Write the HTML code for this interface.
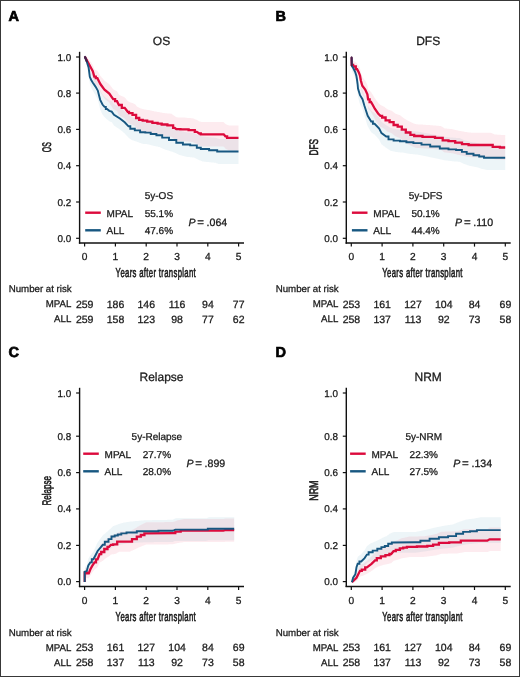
<!DOCTYPE html>
<html><head><meta charset="utf-8"><style>
html,body{margin:0;padding:0;background:#fff;}
#wrap{position:relative;width:520px;height:677px;box-sizing:border-box;border:1px solid #383838;overflow:hidden;background:#fff;}
svg{position:absolute;left:-1px;top:-1px;will-change:transform;}
text{font-family:"Liberation Sans", sans-serif;text-rendering:geometricPrecision;stroke:#1a1a1a;stroke-width:0.28px;}
</style></head><body><div id="wrap">
<svg width="520" height="677" viewBox="0 0 520 677">
<polygon points="85.0,57.0 85.5,56.3 86.0,56.8 86.5,57.6 87.0,58.4 87.5,59.5 88.0,60.6 88.5,61.8 89.0,64.5 89.5,67.7 90.0,70.0 90.5,71.0 91.0,71.9 91.5,72.8 92.0,73.5 92.5,74.2 93.0,74.9 93.5,75.5 94.0,76.2 94.5,76.8 95.0,77.5 95.5,78.1 96.0,78.9 96.5,79.7 97.0,80.4 97.5,81.2 98.0,82.4 98.5,84.1 99.0,85.8 99.5,87.6 100.0,89.4 100.5,90.6 101.0,91.6 101.5,92.5 102.0,93.5 102.5,94.4 103.0,95.0 103.5,95.6 104.0,96.1 104.5,96.7 105.0,97.1 105.5,97.5 106.0,97.9 106.5,98.3 107.0,98.6 107.5,99.0 108.0,99.4 108.5,99.7 109.0,100.1 109.5,100.4 110.0,100.6 110.5,100.7 111.0,100.9 111.5,101.0 112.0,101.5 112.5,102.1 113.0,102.8 113.5,103.4 114.0,104.1 114.5,104.4 115.0,104.7 115.5,104.9 116.0,105.2 116.5,105.5 117.0,105.8 117.5,106.1 118.0,106.4 118.5,106.7 119.0,107.0 119.5,107.3 120.0,107.6 120.5,108.0 121.0,108.4 121.5,108.7 122.0,109.1 122.5,109.5 123.0,109.8 123.5,110.2 124.0,110.6 124.5,111.0 125.0,111.4 125.5,111.9 126.0,112.4 126.5,112.9 127.0,113.4 127.5,113.9 128.0,114.4 128.5,114.9 129.0,115.2 129.5,115.6 130.0,115.9 130.5,116.2 131.0,116.5 131.5,116.8 132.0,117.2 132.5,117.3 133.0,117.5 133.5,117.7 134.0,117.8 134.5,118.0 135.0,118.1 135.5,118.3 136.0,118.4 136.5,118.6 137.0,118.7 137.5,118.9 138.0,119.0 138.5,119.2 139.0,119.4 139.5,119.5 140.0,119.7 140.5,119.9 141.0,120.0 141.5,120.2 142.0,120.3 142.5,120.5 143.0,120.6 143.5,120.6 144.0,120.7 144.5,120.7 145.0,120.7 145.5,120.8 146.0,120.8 146.5,120.8 147.0,120.9 147.5,120.9 148.0,121.0 148.5,121.1 149.0,121.2 149.5,121.3 150.0,121.5 150.5,121.6 151.0,121.7 151.5,121.8 152.0,122.0 152.5,122.1 153.0,122.2 153.5,122.3 154.0,122.4 154.5,122.5 155.0,122.6 155.5,122.7 156.0,122.8 156.5,122.9 157.0,123.0 157.5,123.1 158.0,123.2 158.5,123.3 159.0,123.4 159.5,123.5 160.0,123.7 160.5,123.9 161.0,124.1 161.5,124.3 162.0,124.5 162.5,124.7 163.0,124.9 163.5,125.1 164.0,125.3 164.5,125.5 165.0,125.7 165.5,125.9 166.0,126.0 166.5,126.2 167.0,126.3 167.5,126.4 168.0,126.6 168.5,126.7 169.0,126.8 169.5,127.0 170.0,127.1 170.5,127.3 171.0,127.4 171.5,127.5 172.0,127.7 172.5,127.8 173.0,128.0 173.5,128.2 174.0,128.4 174.5,128.6 175.0,128.8 175.5,129.0 176.0,129.2 176.5,129.4 177.0,129.6 177.5,129.8 178.0,130.0 178.5,130.2 179.0,130.4 179.5,130.6 180.0,130.8 180.5,130.9 181.0,131.0 181.5,131.1 182.0,131.2 182.5,131.4 183.0,131.5 183.5,131.6 184.0,131.7 184.5,131.9 185.0,132.0 185.5,132.1 186.0,132.2 186.5,132.3 187.0,132.4 187.5,132.4 188.0,132.5 188.5,132.5 189.0,132.6 189.5,132.6 190.0,132.7 190.5,132.7 191.0,132.8 191.5,132.8 192.0,132.9 192.5,132.9 193.0,133.0 193.5,133.0 194.0,133.1 194.5,133.2 195.0,133.4 195.5,133.7 196.0,133.9 196.5,134.1 197.0,134.3 197.5,134.6 198.0,134.8 198.5,135.0 199.0,135.2 199.5,135.4 200.0,135.6 200.5,135.8 201.0,136.0 201.5,136.2 202.0,136.4 202.5,136.5 203.0,136.6 203.5,136.6 204.0,136.7 204.5,136.7 205.0,136.8 205.5,136.8 206.0,136.9 206.5,136.9 207.0,137.0 207.5,137.0 208.0,137.1 208.5,137.1 209.0,137.2 209.5,137.2 210.0,137.2 210.5,137.3 211.0,137.3 211.5,137.4 212.0,137.4 212.5,137.5 213.0,137.5 213.5,137.6 214.0,137.6 214.5,137.7 215.0,137.7 215.5,137.8 216.0,137.9 216.5,138.1 217.0,138.3 217.5,138.4 218.0,138.6 218.5,138.8 219.0,138.9 219.5,138.9 220.0,138.9 220.5,138.9 221.0,138.9 221.5,138.9 222.0,138.9 222.5,138.9 223.0,138.9 223.5,138.9 224.0,138.9 224.5,138.9 225.0,138.9 225.5,138.9 226.0,138.9 226.5,138.9 227.0,138.9 227.5,138.9 228.0,138.9 228.5,138.9 229.0,138.9 229.5,138.9 230.0,138.9 230.5,138.9 231.0,138.9 231.5,138.9 232.0,138.9 232.5,138.9 233.0,138.9 233.5,138.9 234.0,138.9 234.5,138.9 235.0,138.9 235.5,138.9 236.0,138.9 236.5,138.9 237.0,138.9 237.5,138.9 238.0,138.9 238.5,138.9 238.5,164.1 238.0,164.1 237.5,164.1 237.0,164.1 236.5,164.1 236.0,164.1 235.5,164.1 235.0,164.1 234.5,164.1 234.0,164.1 233.5,164.1 233.0,164.1 232.5,164.1 232.0,164.1 231.5,164.1 231.0,164.1 230.5,164.1 230.0,164.1 229.5,164.1 229.0,164.1 228.5,164.1 228.0,164.1 227.5,164.1 227.0,164.1 226.5,164.1 226.0,164.1 225.5,164.1 225.0,164.1 224.5,164.1 224.0,164.1 223.5,164.1 223.0,164.1 222.5,164.1 222.0,164.1 221.5,164.1 221.0,164.1 220.5,164.1 220.0,164.1 219.5,164.1 219.0,164.1 218.5,164.0 218.0,163.8 217.5,163.6 217.0,163.4 216.5,163.2 216.0,163.0 215.5,162.8 215.0,162.8 214.5,162.7 214.0,162.7 213.5,162.6 213.0,162.6 212.5,162.5 212.0,162.5 211.5,162.4 211.0,162.3 210.5,162.3 210.0,162.2 209.5,162.2 209.0,162.1 208.5,162.1 208.0,162.0 207.5,162.0 207.0,161.9 206.5,161.9 206.0,161.8 205.5,161.8 205.0,161.7 204.5,161.7 204.0,161.6 203.5,161.6 203.0,161.5 202.5,161.5 202.0,161.3 201.5,161.0 201.0,160.8 200.5,160.6 200.0,160.4 199.5,160.2 199.0,160.0 198.5,159.7 198.0,159.5 197.5,159.3 197.0,159.0 196.5,158.8 196.0,158.5 195.5,158.3 195.0,158.0 194.5,157.8 194.0,157.6 193.5,157.6 193.0,157.5 192.5,157.5 192.0,157.4 191.5,157.3 191.0,157.3 190.5,157.2 190.0,157.2 189.5,157.1 189.0,157.1 188.5,157.0 188.0,156.9 187.5,156.9 187.0,156.8 186.5,156.8 186.0,156.7 185.5,156.5 185.0,156.4 184.5,156.3 184.0,156.1 183.5,156.0 183.0,155.9 182.5,155.7 182.0,155.6 181.5,155.5 181.0,155.3 180.5,155.2 180.0,155.1 179.5,154.9 179.0,154.7 178.5,154.5 178.0,154.2 177.5,154.0 177.0,153.8 176.5,153.5 176.0,153.3 175.5,153.1 175.0,152.9 174.5,152.6 174.0,152.4 173.5,152.2 173.0,152.0 172.5,151.8 172.0,151.7 171.5,151.5 171.0,151.4 170.5,151.2 170.0,151.1 169.5,150.9 169.0,150.8 168.5,150.6 168.0,150.4 167.5,150.3 167.0,150.1 166.5,150.0 166.0,149.8 165.5,149.7 165.0,149.5 164.5,149.3 164.0,149.1 163.5,148.9 163.0,148.6 162.5,148.4 162.0,148.2 161.5,148.0 161.0,147.7 160.5,147.5 160.0,147.3 159.5,147.1 159.0,147.0 158.5,146.9 158.0,146.7 157.5,146.6 157.0,146.5 156.5,146.4 156.0,146.3 155.5,146.2 155.0,146.1 154.5,146.0 154.0,145.9 153.5,145.8 153.0,145.6 152.5,145.5 152.0,145.4 151.5,145.2 151.0,145.1 150.5,144.9 150.0,144.8 149.5,144.7 149.0,144.5 148.5,144.4 148.0,144.2 147.5,144.2 147.0,144.2 146.5,144.1 146.0,144.1 145.5,144.0 145.0,144.0 144.5,144.0 144.0,143.9 143.5,143.9 143.0,143.8 142.5,143.8 142.0,143.6 141.5,143.4 141.0,143.2 140.5,143.0 140.0,142.9 139.5,142.7 139.0,142.5 138.5,142.3 138.0,142.2 137.5,142.0 137.0,141.8 136.5,141.6 136.0,141.5 135.5,141.3 135.0,141.1 134.5,141.0 134.0,140.8 133.5,140.6 133.0,140.5 132.5,140.3 132.0,140.1 131.5,139.8 131.0,139.4 130.5,139.1 130.0,138.7 129.5,138.4 129.0,138.0 128.5,137.7 128.0,137.1 127.5,136.6 127.0,136.0 126.5,135.5 126.0,134.9 125.5,134.4 125.0,133.8 124.5,133.3 124.0,132.9 123.5,132.5 123.0,132.1 122.5,131.6 122.0,131.2 121.5,130.8 121.0,130.4 120.5,130.0 120.0,129.5 119.5,129.2 119.0,128.9 118.5,128.5 118.0,128.2 117.5,127.9 117.0,127.5 116.5,127.2 116.0,126.9 115.5,126.5 115.0,126.2 114.5,125.9 114.0,125.5 113.5,124.8 113.0,124.0 112.5,123.3 112.0,122.6 111.5,122.0 111.0,121.9 110.5,121.7 110.0,121.5 109.5,121.3 109.0,121.0 108.5,120.6 108.0,120.2 107.5,119.8 107.0,119.4 106.5,118.9 106.0,118.5 105.5,118.0 105.0,117.6 104.5,117.1 104.0,116.5 103.5,115.8 103.0,115.2 102.5,114.6 102.0,113.5 101.5,112.4 101.0,111.3 100.5,110.2 100.0,108.7 99.5,106.6 99.0,104.6 98.5,102.5 98.0,100.4 97.5,98.9 97.0,98.0 96.5,97.0 96.0,96.1 95.5,95.1 95.0,94.3 94.5,93.4 94.0,92.6 93.5,91.8 93.0,91.0 92.5,90.1 92.0,89.2 91.5,88.2 91.0,87.1 90.5,85.8 90.0,84.5 89.5,81.3 89.0,76.7 88.5,72.5 88.0,70.5 87.5,68.4 87.0,66.3 86.5,64.3 86.0,62.4 85.5,60.3 85.0,57.0" fill="rgba(90,160,195,0.11)"/>
<polygon points="85.0,57.0 85.5,56.3 86.0,56.5 86.5,56.9 87.0,57.4 87.5,57.9 88.0,58.5 88.5,59.1 89.0,59.7 89.5,60.3 90.0,61.0 90.5,61.7 91.0,62.3 91.5,63.0 92.0,63.8 92.5,64.5 93.0,65.5 93.5,67.0 94.0,68.5 94.5,69.5 95.0,69.7 95.5,69.9 96.0,70.1 96.5,70.4 97.0,70.6 97.5,70.9 98.0,71.8 98.5,72.6 99.0,73.5 99.5,74.3 100.0,75.2 100.5,76.0 101.0,76.6 101.5,77.2 102.0,77.8 102.5,78.3 103.0,78.9 103.5,79.5 104.0,80.1 104.5,80.7 105.0,81.1 105.5,81.4 106.0,81.8 106.5,82.1 107.0,82.5 107.5,82.9 108.0,83.2 108.5,83.6 109.0,84.0 109.5,84.5 110.0,85.1 110.5,85.8 111.0,86.4 111.5,87.1 112.0,87.8 112.5,88.4 113.0,89.1 113.5,89.5 114.0,89.7 114.5,90.0 115.0,90.2 115.5,90.5 116.0,90.7 116.5,90.9 117.0,91.2 117.5,92.1 118.0,93.0 118.5,93.9 119.0,94.7 119.5,95.0 120.0,95.2 120.5,95.4 121.0,95.7 121.5,95.9 122.0,96.1 122.5,96.4 123.0,96.6 123.5,96.8 124.0,97.1 124.5,97.3 125.0,97.7 125.5,98.3 126.0,98.9 126.5,99.6 127.0,100.2 127.5,100.8 128.0,101.2 128.5,101.4 129.0,101.7 129.5,101.9 130.0,102.2 130.5,102.4 131.0,102.6 131.5,102.8 132.0,103.0 132.5,103.1 133.0,103.3 133.5,103.5 134.0,103.7 134.5,103.9 135.0,104.3 135.5,104.8 136.0,105.3 136.5,105.9 137.0,106.4 137.5,106.9 138.0,107.1 138.5,107.4 139.0,107.6 139.5,107.9 140.0,108.1 140.5,108.4 141.0,108.6 141.5,108.7 142.0,108.8 142.5,108.9 143.0,109.1 143.5,109.2 144.0,109.3 144.5,109.4 145.0,109.5 145.5,109.6 146.0,109.7 146.5,109.7 147.0,109.8 147.5,109.9 148.0,110.0 148.5,110.1 149.0,110.1 149.5,110.2 150.0,110.3 150.5,110.4 151.0,110.5 151.5,110.7 152.0,110.8 152.5,110.9 153.0,111.0 153.5,111.1 154.0,111.2 154.5,111.4 155.0,111.5 155.5,111.6 156.0,111.6 156.5,111.7 157.0,111.8 157.5,111.9 158.0,111.9 158.5,112.0 159.0,112.1 159.5,112.2 160.0,112.2 160.5,112.4 161.0,112.5 161.5,112.6 162.0,112.7 162.5,112.8 163.0,112.9 163.5,113.0 164.0,113.1 164.5,113.1 165.0,113.2 165.5,113.2 166.0,113.2 166.5,113.3 167.0,113.3 167.5,113.4 168.0,113.4 168.5,113.5 169.0,113.5 169.5,113.6 170.0,113.6 170.5,113.7 171.0,113.7 171.5,113.8 172.0,114.2 172.5,114.5 173.0,114.9 173.5,115.2 174.0,115.6 174.5,115.9 175.0,116.3 175.5,116.7 176.0,117.1 176.5,117.3 177.0,117.3 177.5,117.3 178.0,117.4 178.5,117.4 179.0,117.4 179.5,117.4 180.0,117.4 180.5,117.4 181.0,117.5 181.5,117.5 182.0,117.5 182.5,117.5 183.0,117.5 183.5,117.5 184.0,117.6 184.5,117.6 185.0,117.6 185.5,117.7 186.0,117.7 186.5,117.8 187.0,117.8 187.5,117.9 188.0,117.9 188.5,117.9 189.0,118.0 189.5,118.0 190.0,118.1 190.5,118.1 191.0,118.2 191.5,118.2 192.0,118.3 192.5,118.3 193.0,118.4 193.5,118.6 194.0,118.8 194.5,119.0 195.0,119.2 195.5,119.4 196.0,119.6 196.5,119.8 197.0,120.0 197.5,120.3 198.0,120.6 198.5,121.0 199.0,121.3 199.5,121.5 200.0,121.6 200.5,121.7 201.0,121.8 201.5,121.9 202.0,122.0 202.5,122.1 203.0,122.1 203.5,122.1 204.0,122.1 204.5,122.1 205.0,122.1 205.5,122.1 206.0,122.1 206.5,122.1 207.0,122.1 207.5,122.1 208.0,122.1 208.5,122.1 209.0,122.1 209.5,122.1 210.0,122.1 210.5,122.1 211.0,122.1 211.5,122.1 212.0,122.1 212.5,122.1 213.0,122.1 213.5,122.1 214.0,122.1 214.5,122.1 215.0,122.1 215.5,122.1 216.0,122.1 216.5,122.1 217.0,122.1 217.5,122.1 218.0,122.1 218.5,122.1 219.0,122.1 219.5,122.1 220.0,122.1 220.5,122.1 221.0,122.1 221.5,122.1 222.0,122.1 222.5,122.1 223.0,122.1 223.5,122.1 224.0,122.4 224.5,123.0 225.0,123.5 225.5,124.0 226.0,124.2 226.5,124.4 227.0,124.7 227.5,124.9 228.0,125.1 228.5,125.3 229.0,125.4 229.5,125.4 230.0,125.4 230.5,125.4 231.0,125.4 231.5,125.4 232.0,125.4 232.5,125.4 233.0,125.4 233.5,125.4 234.0,125.4 234.5,125.4 235.0,125.4 235.5,125.4 236.0,125.4 236.5,125.4 237.0,125.4 237.5,125.4 238.0,125.4 238.5,125.4 238.5,150.4 238.0,150.4 237.5,150.4 237.0,150.4 236.5,150.4 236.0,150.4 235.5,150.4 235.0,150.4 234.5,150.4 234.0,150.4 233.5,150.4 233.0,150.4 232.5,150.4 232.0,150.4 231.5,150.4 231.0,150.4 230.5,150.4 230.0,150.4 229.5,150.4 229.0,150.4 228.5,150.3 228.0,150.0 227.5,149.8 227.0,149.5 226.5,149.2 226.0,149.0 225.5,148.7 225.0,148.1 224.5,147.5 224.0,146.9 223.5,146.5 223.0,146.5 222.5,146.5 222.0,146.5 221.5,146.5 221.0,146.5 220.5,146.5 220.0,146.5 219.5,146.5 219.0,146.5 218.5,146.5 218.0,146.5 217.5,146.5 217.0,146.5 216.5,146.5 216.0,146.5 215.5,146.5 215.0,146.5 214.5,146.5 214.0,146.5 213.5,146.5 213.0,146.5 212.5,146.5 212.0,146.5 211.5,146.5 211.0,146.5 210.5,146.5 210.0,146.5 209.5,146.5 209.0,146.5 208.5,146.5 208.0,146.5 207.5,146.5 207.0,146.5 206.5,146.5 206.0,146.5 205.5,146.5 205.0,146.5 204.5,146.5 204.0,146.5 203.5,146.5 203.0,146.5 202.5,146.5 202.0,146.3 201.5,146.2 201.0,146.1 200.5,146.0 200.0,145.8 199.5,145.7 199.0,145.5 198.5,145.1 198.0,144.8 197.5,144.4 197.0,144.0 196.5,143.8 196.0,143.5 195.5,143.3 195.0,143.1 194.5,142.9 194.0,142.7 193.5,142.4 193.0,142.2 192.5,142.1 192.0,142.0 191.5,142.0 191.0,141.9 190.5,141.8 190.0,141.8 189.5,141.7 189.0,141.7 188.5,141.6 188.0,141.6 187.5,141.5 187.0,141.5 186.5,141.4 186.0,141.4 185.5,141.3 185.0,141.3 184.5,141.2 184.0,141.2 183.5,141.2 183.0,141.2 182.5,141.1 182.0,141.1 181.5,141.1 181.0,141.1 180.5,141.1 180.0,141.0 179.5,141.0 179.0,141.0 178.5,141.0 178.0,141.0 177.5,140.9 177.0,140.9 176.5,140.9 176.0,140.6 175.5,140.2 175.0,139.8 174.5,139.4 174.0,139.0 173.5,138.6 173.0,138.1 172.5,137.7 172.0,137.3 171.5,136.9 171.0,136.8 170.5,136.8 170.0,136.7 169.5,136.7 169.0,136.6 168.5,136.6 168.0,136.5 167.5,136.4 167.0,136.4 166.5,136.3 166.0,136.3 165.5,136.2 165.0,136.2 164.5,136.1 164.0,136.1 163.5,136.0 163.0,135.9 162.5,135.8 162.0,135.7 161.5,135.5 161.0,135.4 160.5,135.3 160.0,135.2 159.5,135.1 159.0,135.0 158.5,134.9 158.0,134.8 157.5,134.7 157.0,134.6 156.5,134.5 156.0,134.5 155.5,134.4 155.0,134.3 154.5,134.2 154.0,134.0 153.5,133.9 153.0,133.8 152.5,133.6 152.0,133.5 151.5,133.4 151.0,133.2 150.5,133.1 150.0,133.0 149.5,132.9 149.0,132.8 148.5,132.7 148.0,132.6 147.5,132.5 147.0,132.4 146.5,132.3 146.0,132.3 145.5,132.2 145.0,132.1 144.5,132.0 144.0,131.9 143.5,131.7 143.0,131.6 142.5,131.5 142.0,131.3 141.5,131.2 141.0,131.1 140.5,130.8 140.0,130.6 139.5,130.3 139.0,130.0 138.5,129.7 138.0,129.5 137.5,129.2 137.0,128.7 136.5,128.1 136.0,127.4 135.5,126.8 135.0,126.2 134.5,125.8 134.0,125.6 133.5,125.4 133.0,125.2 132.5,125.0 132.0,124.8 131.5,124.6 131.0,124.4 130.5,124.1 130.0,123.9 129.5,123.6 129.0,123.3 128.5,123.0 128.0,122.8 127.5,122.3 127.0,121.6 126.5,120.9 126.0,120.2 125.5,119.5 125.0,118.8 124.5,118.3 124.0,118.0 123.5,117.8 123.0,117.5 122.5,117.2 122.0,117.0 121.5,116.7 121.0,116.4 120.5,116.2 120.0,115.9 119.5,115.6 119.0,115.4 118.5,114.5 118.0,113.4 117.5,112.3 117.0,111.2 116.5,110.9 116.0,110.6 115.5,110.4 115.0,110.1 114.5,109.8 114.0,109.5 113.5,109.2 113.0,108.7 112.5,107.9 112.0,107.1 111.5,106.3 111.0,105.5 110.5,104.7 110.0,103.9 109.5,103.1 109.0,102.5 108.5,102.1 108.0,101.6 107.5,101.2 107.0,100.7 106.5,100.3 106.0,99.9 105.5,99.4 105.0,99.0 104.5,98.5 104.0,97.8 103.5,97.0 103.0,96.3 102.5,95.6 102.0,94.8 101.5,94.1 101.0,93.3 100.5,92.6 100.0,91.5 99.5,90.4 99.0,89.3 98.5,88.2 98.0,87.0 97.5,85.9 97.0,85.4 96.5,85.1 96.0,84.8 95.5,84.5 95.0,84.2 94.5,83.9 94.0,82.5 93.5,80.4 93.0,78.3 92.5,76.8 92.0,75.6 91.5,74.5 91.0,73.3 90.5,72.2 90.0,71.1 89.5,70.0 89.0,68.8 88.5,67.6 88.0,66.4 87.5,65.2 87.0,63.9 86.5,62.5 86.0,61.1 85.5,59.5 85.0,57.0" fill="rgba(235,60,100,0.10)"/>
<polyline points="85.0,57.0 88.2,62.8 91.2,68.2 92.8,71.2 94.3,76.6 95.8,76.6 95.8,78.2 97.4,78.2 98.9,81.2 100.5,84.3 104.5,89.6 109.3,93.5 113.2,99.2 115.1,99.2 115.1,101.2 117.0,101.2 118.9,105.0 121.8,105.0 121.8,107.9 124.7,107.9 127.7,111.8 129.0,111.8 129.0,113.2 130.3,113.2 132.5,113.2 132.5,114.9 134.7,114.9 136.1,114.9 136.1,118.0 137.4,118.0 139.2,118.0 139.2,119.8 140.9,119.8 142.7,119.8 142.7,120.7 144.5,120.7 147.2,120.7 147.2,121.6 149.8,121.6 152.4,121.6 152.4,122.9 155.1,122.9 157.6,122.9 157.6,123.7 160.0,123.7 161.7,123.7 161.7,124.5 163.3,124.5 167.4,124.5 167.4,125.3 171.4,125.3 173.1,125.3 173.1,127.8 174.7,127.8 176.3,129.1 180.4,129.1 180.4,129.4 184.5,129.4 188.6,129.4 188.6,130.2 192.7,130.2 194.8,130.2 194.8,131.9 196.8,131.9 199.2,133.5 200.8,133.5 200.8,134.3 202.5,134.3 223.7,134.3 225.4,136.3 227.1,136.3 227.1,137.9 228.7,137.9 238.5,137.9" fill="none" stroke="#dc0a3c" stroke-width="2.3" stroke-linejoin="miter"/>
<polyline points="85.0,57.0 86.9,62.0 88.6,67.5 89.8,76.8 91.2,80.0 92.7,82.5 95.5,86.6 97.8,90.6 99.0,95.2 100.2,99.8 102.5,104.5 104.5,106.9 105.8,106.9 105.8,109.0 107.0,109.0 109.3,110.8 111.7,111.6 114.0,114.8 119.9,118.5 124.7,122.3 128.5,126.3 130.3,126.3 130.3,128.7 132.1,128.7 134.8,128.7 134.8,130.4 137.4,130.4 140.1,130.4 140.1,132.2 142.7,132.2 145.3,132.2 145.3,132.6 148.0,132.6 150.7,132.6 150.7,134.0 153.3,134.0 156.4,134.0 156.4,135.3 159.5,135.3 162.2,135.3 162.2,137.6 164.9,137.6 169.0,137.6 169.0,140.0 173.1,140.0 176.3,140.0 176.3,142.8 179.6,142.8 182.9,142.8 182.9,144.5 186.2,144.5 190.2,144.5 190.2,145.4 194.3,145.4 196.8,145.4 196.8,147.7 199.2,147.7 200.8,147.7 200.8,149.0 202.5,149.0 209.1,149.0 209.1,150.3 215.6,150.3 217.2,150.3 217.2,151.5 218.8,151.5 238.5,151.5" fill="none" stroke="#175781" stroke-width="1.9" stroke-linejoin="miter"/>
<polyline points="85.0,57.0 86.8,61.2" fill="none" stroke="#4a1f48" stroke-width="2.2" stroke-linecap="round"/>
<line x1="79.6" y1="51.8" x2="79.6" y2="243.7" stroke="#111" stroke-width="1.4"/>
<line x1="78.89999999999999" y1="243.0" x2="244.0" y2="243.0" stroke="#111" stroke-width="1.5"/>
<line x1="76.1" y1="57.0" x2="79.6" y2="57.0" stroke="#111" stroke-width="1.2"/>
<text x="71.3" y="60.5" font-size="9.9" text-anchor="end" font-weight="normal" font-style="normal" fill="#1a1a1a" >1.0</text>
<line x1="76.1" y1="93.1" x2="79.6" y2="93.1" stroke="#111" stroke-width="1.2"/>
<text x="71.3" y="96.6" font-size="9.9" text-anchor="end" font-weight="normal" font-style="normal" fill="#1a1a1a" >0.8</text>
<line x1="76.1" y1="129.4" x2="79.6" y2="129.4" stroke="#111" stroke-width="1.2"/>
<text x="71.3" y="132.9" font-size="9.9" text-anchor="end" font-weight="normal" font-style="normal" fill="#1a1a1a" >0.6</text>
<line x1="76.1" y1="165.7" x2="79.6" y2="165.7" stroke="#111" stroke-width="1.2"/>
<text x="71.3" y="169.2" font-size="9.9" text-anchor="end" font-weight="normal" font-style="normal" fill="#1a1a1a" >0.4</text>
<line x1="76.1" y1="202.0" x2="79.6" y2="202.0" stroke="#111" stroke-width="1.2"/>
<text x="71.3" y="205.5" font-size="9.9" text-anchor="end" font-weight="normal" font-style="normal" fill="#1a1a1a" >0.2</text>
<line x1="76.1" y1="238.3" x2="79.6" y2="238.3" stroke="#111" stroke-width="1.2"/>
<text x="71.3" y="241.8" font-size="9.9" text-anchor="end" font-weight="normal" font-style="normal" fill="#1a1a1a" >0.0</text>
<line x1="84.6" y1="243.0" x2="84.6" y2="246.6" stroke="#111" stroke-width="1.2"/>
<text x="84.6" y="259.8" font-size="10.2" text-anchor="middle" font-weight="normal" font-style="normal" fill="#1a1a1a" >0</text>
<line x1="115.39999999999999" y1="243.0" x2="115.39999999999999" y2="246.6" stroke="#111" stroke-width="1.2"/>
<text x="115.39999999999999" y="259.8" font-size="10.2" text-anchor="middle" font-weight="normal" font-style="normal" fill="#1a1a1a" >1</text>
<line x1="146.2" y1="243.0" x2="146.2" y2="246.6" stroke="#111" stroke-width="1.2"/>
<text x="146.2" y="259.8" font-size="10.2" text-anchor="middle" font-weight="normal" font-style="normal" fill="#1a1a1a" >2</text>
<line x1="177.0" y1="243.0" x2="177.0" y2="246.6" stroke="#111" stroke-width="1.2"/>
<text x="177.0" y="259.8" font-size="10.2" text-anchor="middle" font-weight="normal" font-style="normal" fill="#1a1a1a" >3</text>
<line x1="207.8" y1="243.0" x2="207.8" y2="246.6" stroke="#111" stroke-width="1.2"/>
<text x="207.8" y="259.8" font-size="10.2" text-anchor="middle" font-weight="normal" font-style="normal" fill="#1a1a1a" >4</text>
<line x1="238.6" y1="243.0" x2="238.6" y2="246.6" stroke="#111" stroke-width="1.2"/>
<text x="238.6" y="259.8" font-size="10.2" text-anchor="middle" font-weight="normal" font-style="normal" fill="#1a1a1a" >5</text>
<text transform="translate(115.6,277.2) scale(0.595,1)" x="0" y="0" font-size="13" fill="#1a1a1a" style="stroke-width:0.6px;letter-spacing:0.55px">Years after transplant</text>
<text transform="translate(50.6,147.2) rotate(-90)" x="0" y="0" font-size="12.5" text-anchor="middle" fill="#1a1a1a" style="stroke-width:0.6px" textLength="10" lengthAdjust="spacingAndGlyphs">OS</text>
<text x="161.5" y="45.0" font-size="12" text-anchor="middle" font-weight="normal" font-style="normal" fill="#1a1a1a" >OS</text>
<text x="8.4" y="21" font-size="14.5" text-anchor="start" font-weight="bold" font-style="normal" fill="#000" style="stroke-width:0.7px;stroke:#000">A</text>
<line x1="85.2" y1="212.7" x2="100.8" y2="212.7" stroke="#dc0a3c" stroke-width="2.4"/>
<line x1="85.2" y1="230.3" x2="100.8" y2="230.3" stroke="#175781" stroke-width="2.4"/>
<text x="106.6" y="217.0" font-size="10" text-anchor="start" font-weight="normal" font-style="normal" fill="#1a1a1a" >MPAL</text>
<text x="106.6" y="234.3" font-size="10" text-anchor="start" font-weight="normal" font-style="normal" fill="#1a1a1a" >ALL</text>
<text x="158.9" y="198.8" font-size="10" text-anchor="middle" font-weight="normal" font-style="normal" fill="#1a1a1a" >5y-OS</text>
<text x="144.7" y="216.8" font-size="10" text-anchor="start" font-weight="normal" font-style="normal" fill="#1a1a1a" >55.1%</text>
<text x="144.7" y="234.0" font-size="10" text-anchor="start" font-weight="normal" font-style="normal" fill="#1a1a1a" >47.6%</text>
<text x="188.4" y="226.0" font-size="10.6" text-anchor="start" font-weight="normal" font-style="italic" fill="#1a1a1a" >P</text>
<text x="197.2" y="226.2" font-size="11.5" text-anchor="start" font-weight="normal" font-style="normal" fill="#1a1a1a" >=</text>
<text x="206.6" y="226.0" font-size="10.6" text-anchor="start" font-weight="normal" font-style="normal" fill="#1a1a1a" >.064</text>
<text x="8.7" y="292.4" font-size="9.7" text-anchor="start" font-weight="normal" font-style="normal" fill="#1a1a1a" >Number at risk</text>
<text x="71.3" y="307.4" font-size="9.7" text-anchor="end" font-weight="normal" font-style="normal" fill="#1a1a1a" >MPAL</text>
<text x="71.3" y="322.3" font-size="9.7" text-anchor="end" font-weight="normal" font-style="normal" fill="#1a1a1a" >ALL</text>
<text x="84.7" y="307.6" font-size="10.5" text-anchor="middle" font-weight="normal" font-style="normal" fill="#1a1a1a" >259</text>
<text x="84.7" y="322.5" font-size="10.5" text-anchor="middle" font-weight="normal" font-style="normal" fill="#1a1a1a" >259</text>
<text x="115.5" y="307.6" font-size="10.5" text-anchor="middle" font-weight="normal" font-style="normal" fill="#1a1a1a" >186</text>
<text x="115.5" y="322.5" font-size="10.5" text-anchor="middle" font-weight="normal" font-style="normal" fill="#1a1a1a" >158</text>
<text x="146.3" y="307.6" font-size="10.5" text-anchor="middle" font-weight="normal" font-style="normal" fill="#1a1a1a" >146</text>
<text x="146.3" y="322.5" font-size="10.5" text-anchor="middle" font-weight="normal" font-style="normal" fill="#1a1a1a" >123</text>
<text x="177.10000000000002" y="307.6" font-size="10.5" text-anchor="middle" font-weight="normal" font-style="normal" fill="#1a1a1a" >116</text>
<text x="177.10000000000002" y="322.5" font-size="10.5" text-anchor="middle" font-weight="normal" font-style="normal" fill="#1a1a1a" >98</text>
<text x="207.9" y="307.6" font-size="10.5" text-anchor="middle" font-weight="normal" font-style="normal" fill="#1a1a1a" >94</text>
<text x="207.9" y="322.5" font-size="10.5" text-anchor="middle" font-weight="normal" font-style="normal" fill="#1a1a1a" >77</text>
<text x="238.7" y="307.6" font-size="10.5" text-anchor="middle" font-weight="normal" font-style="normal" fill="#1a1a1a" >77</text>
<text x="238.7" y="322.5" font-size="10.5" text-anchor="middle" font-weight="normal" font-style="normal" fill="#1a1a1a" >62</text>
<polygon points="351.6,57.3 352.1,61.4 352.6,61.9 353.1,62.5 353.6,63.1 354.1,63.9 354.6,64.7 355.1,65.6 355.6,66.8 356.1,68.2 356.6,70.0 357.1,72.6 357.6,75.9 358.1,80.2 358.6,81.7 359.1,83.2 359.6,84.7 360.1,86.1 360.6,86.8 361.1,87.6 361.6,88.3 362.1,89.1 362.6,90.0 363.1,91.5 363.6,93.1 364.1,94.7 364.6,96.3 365.1,97.7 365.6,99.2 366.1,100.6 366.6,102.1 367.1,103.5 367.6,105.0 368.1,105.9 368.6,106.7 369.1,107.5 369.6,108.2 370.1,109.0 370.6,109.8 371.1,110.6 371.6,111.0 372.1,111.3 372.6,111.7 373.1,112.0 373.6,112.3 374.1,112.6 374.6,113.0 375.1,113.5 375.6,113.9 376.1,114.4 376.6,114.9 377.1,115.4 377.6,115.9 378.1,116.4 378.6,116.9 379.1,117.4 379.6,118.2 380.1,119.2 380.6,120.2 381.1,121.1 381.6,122.0 382.1,122.3 382.6,122.6 383.1,123.0 383.6,123.3 384.1,123.7 384.6,124.0 385.1,124.4 385.6,124.7 386.1,125.1 386.6,125.4 387.1,125.7 387.6,126.0 388.1,126.3 388.6,126.6 389.1,126.9 389.6,127.2 390.1,127.6 390.6,127.9 391.1,128.0 391.6,128.1 392.1,128.2 392.6,128.4 393.1,128.5 393.6,128.6 394.1,128.7 394.6,128.8 395.1,128.9 395.6,129.0 396.1,129.1 396.6,129.2 397.1,129.2 397.6,129.2 398.1,129.3 398.6,129.3 399.1,129.4 399.6,129.4 400.1,129.5 400.6,129.5 401.1,129.5 401.6,129.6 402.1,129.6 402.6,129.7 403.1,129.7 403.6,129.8 404.1,129.8 404.6,129.9 405.1,130.0 405.6,130.1 406.1,130.2 406.6,130.3 407.1,130.4 407.6,130.5 408.1,130.6 408.6,130.7 409.1,130.8 409.6,130.8 410.1,130.9 410.6,130.9 411.1,131.0 411.6,131.0 412.1,131.1 412.6,131.1 413.1,131.2 413.6,131.2 414.1,131.2 414.6,131.3 415.1,131.3 415.6,131.4 416.1,131.4 416.6,131.5 417.1,131.5 417.6,131.6 418.1,131.6 418.6,131.7 419.1,131.8 419.6,131.9 420.1,132.0 420.6,132.1 421.1,132.2 421.6,132.3 422.1,132.4 422.6,132.5 423.1,132.6 423.6,132.7 424.1,132.8 424.6,132.9 425.1,133.0 425.6,133.0 426.1,133.1 426.6,133.2 427.1,133.3 427.6,133.4 428.1,133.5 428.6,133.6 429.1,133.7 429.6,133.8 430.1,133.9 430.6,134.0 431.1,134.1 431.6,134.2 432.1,134.3 432.6,134.4 433.1,134.5 433.6,134.6 434.1,134.7 434.6,134.8 435.1,134.8 435.6,134.9 436.1,135.0 436.6,135.1 437.1,135.2 437.6,135.3 438.1,135.4 438.6,135.5 439.1,135.6 439.6,135.7 440.1,135.8 440.6,135.9 441.1,136.0 441.6,136.1 442.1,136.2 442.6,136.3 443.1,136.4 443.6,136.5 444.1,136.6 444.6,136.7 445.1,136.8 445.6,136.9 446.1,136.9 446.6,137.0 447.1,137.0 447.6,137.1 448.1,137.1 448.6,137.2 449.1,137.2 449.6,137.3 450.1,137.4 450.6,137.4 451.1,137.5 451.6,137.5 452.1,137.6 452.6,137.6 453.1,137.7 453.6,137.7 454.1,137.7 454.6,137.8 455.1,137.8 455.6,137.8 456.1,137.9 456.6,137.9 457.1,137.9 457.6,138.0 458.1,138.0 458.6,138.1 459.1,138.1 459.6,138.1 460.1,138.2 460.6,138.4 461.1,138.7 461.6,138.9 462.1,139.2 462.6,139.4 463.1,139.6 463.6,139.9 464.1,140.0 464.6,140.2 465.1,140.4 465.6,140.5 466.1,140.7 466.6,140.8 467.1,141.0 467.6,141.1 468.1,141.3 468.6,141.4 469.1,141.6 469.6,141.8 470.1,141.8 470.6,141.9 471.1,142.0 471.6,142.1 472.1,142.2 472.6,142.3 473.1,142.4 473.6,142.4 474.1,142.5 474.6,142.6 475.1,142.7 475.6,142.8 476.1,142.9 476.6,143.0 477.1,143.0 477.6,143.2 478.1,143.3 478.6,143.5 479.1,143.6 479.6,143.8 480.1,144.0 480.6,144.1 481.1,144.3 481.6,144.4 482.1,144.5 482.6,144.6 483.1,144.7 483.6,144.8 484.1,144.9 484.6,145.0 485.1,145.1 485.6,145.2 486.1,145.3 486.6,145.4 487.1,145.4 487.6,145.4 488.1,145.4 488.6,145.4 489.1,145.4 489.6,145.4 490.1,145.4 490.6,145.4 491.1,145.4 491.6,145.4 492.1,145.4 492.6,145.4 493.1,145.4 493.6,145.4 494.1,145.4 494.6,145.4 495.1,145.4 495.6,145.4 496.1,145.4 496.6,145.4 497.1,145.4 497.6,145.4 498.1,145.4 498.6,145.4 499.1,145.4 499.6,145.4 500.1,145.4 500.6,145.4 501.1,145.4 501.6,145.4 502.1,145.4 502.6,145.4 503.1,145.4 503.6,145.4 504.1,145.4 504.6,145.4 505.1,145.4 505.2,145.4 505.2,170.0 505.1,170.0 504.6,170.0 504.1,170.0 503.6,170.0 503.1,170.0 502.6,170.0 502.1,170.0 501.6,170.0 501.1,170.0 500.6,170.0 500.1,170.0 499.6,170.0 499.1,170.0 498.6,170.0 498.1,170.0 497.6,170.0 497.1,170.0 496.6,170.0 496.1,170.0 495.6,170.0 495.1,170.0 494.6,170.0 494.1,170.0 493.6,170.0 493.1,170.0 492.6,170.0 492.1,170.0 491.6,170.0 491.1,170.0 490.6,170.0 490.1,170.0 489.6,170.0 489.1,170.0 488.6,170.0 488.1,170.0 487.6,170.0 487.1,170.0 486.6,169.9 486.1,169.8 485.6,169.7 485.1,169.6 484.6,169.5 484.1,169.3 483.6,169.2 483.1,169.1 482.6,169.0 482.1,168.9 481.6,168.8 481.1,168.7 480.6,168.5 480.1,168.3 479.6,168.1 479.1,168.0 478.6,167.8 478.1,167.6 477.6,167.4 477.1,167.3 476.6,167.2 476.1,167.1 475.6,167.0 475.1,166.9 474.6,166.8 474.1,166.7 473.6,166.6 473.1,166.5 472.6,166.4 472.1,166.3 471.6,166.2 471.1,166.1 470.6,166.0 470.1,165.9 469.6,165.8 469.1,165.7 468.6,165.5 468.1,165.3 467.6,165.2 467.1,165.0 466.6,164.8 466.1,164.6 465.6,164.5 465.1,164.3 464.6,164.1 464.1,164.0 463.6,163.7 463.1,163.5 462.6,163.2 462.1,162.9 461.6,162.7 461.1,162.4 460.6,162.2 460.1,161.9 459.6,161.8 459.1,161.8 458.6,161.7 458.1,161.7 457.6,161.6 457.1,161.6 456.6,161.6 456.1,161.5 455.6,161.5 455.1,161.4 454.6,161.4 454.1,161.4 453.6,161.3 453.1,161.3 452.6,161.2 452.1,161.2 451.6,161.1 451.1,161.1 450.6,161.0 450.1,160.9 449.6,160.9 449.1,160.8 448.6,160.8 448.1,160.7 447.6,160.6 447.1,160.6 446.6,160.5 446.1,160.4 445.6,160.4 445.1,160.3 444.6,160.3 444.1,160.2 443.6,160.0 443.1,159.9 442.6,159.8 442.1,159.7 441.6,159.6 441.1,159.5 440.6,159.4 440.1,159.3 439.6,159.2 439.1,159.1 438.6,159.0 438.1,158.8 437.6,158.7 437.1,158.6 436.6,158.5 436.1,158.4 435.6,158.3 435.1,158.2 434.6,158.1 434.1,158.0 433.6,157.9 433.1,157.8 432.6,157.7 432.1,157.6 431.6,157.5 431.1,157.4 430.6,157.3 430.1,157.2 429.6,157.1 429.1,157.0 428.6,156.8 428.1,156.7 427.6,156.6 427.1,156.5 426.6,156.4 426.1,156.3 425.6,156.2 425.1,156.1 424.6,156.0 424.1,155.9 423.6,155.8 423.1,155.7 422.6,155.6 422.1,155.5 421.6,155.4 421.1,155.3 420.6,155.2 420.1,155.1 419.6,155.0 419.1,154.9 418.6,154.8 418.1,154.7 417.6,154.6 417.1,154.6 416.6,154.5 416.1,154.5 415.6,154.4 415.1,154.4 414.6,154.3 414.1,154.3 413.6,154.2 413.1,154.2 412.6,154.1 412.1,154.1 411.6,154.0 411.1,154.0 410.6,153.9 410.1,153.9 409.6,153.8 409.1,153.8 408.6,153.7 408.1,153.6 407.6,153.5 407.1,153.4 406.6,153.3 406.1,153.2 405.6,153.1 405.1,153.0 404.6,152.9 404.1,152.8 403.6,152.7 403.1,152.6 402.6,152.6 402.1,152.5 401.6,152.5 401.1,152.5 400.6,152.4 400.1,152.4 399.6,152.3 399.1,152.3 398.6,152.2 398.1,152.2 397.6,152.1 397.1,152.1 396.6,152.1 396.1,152.0 395.6,151.9 395.1,151.7 394.6,151.6 394.1,151.5 393.6,151.4 393.1,151.3 392.6,151.2 392.1,151.1 391.6,151.0 391.1,150.9 390.6,150.7 390.1,150.4 389.6,150.0 389.1,149.7 388.6,149.4 388.1,149.1 387.6,148.7 387.1,148.4 386.6,148.1 386.1,147.8 385.6,147.4 385.1,147.0 384.6,146.6 384.1,146.3 383.6,145.9 383.1,145.5 382.6,145.1 382.1,144.8 381.6,144.4 381.1,143.5 380.6,142.4 380.1,141.4 379.6,140.4 379.1,139.4 378.6,138.9 378.1,138.4 377.6,137.8 377.1,137.3 376.6,136.8 376.1,136.2 375.6,135.7 375.1,135.2 374.6,134.6 374.1,134.3 373.6,133.9 373.1,133.6 372.6,133.2 372.1,132.9 371.6,132.5 371.1,132.1 370.6,131.2 370.1,130.4 369.6,129.5 369.1,128.7 368.6,127.8 368.1,127.0 367.6,126.0 367.1,124.4 366.6,122.8 366.1,121.2 365.6,119.6 365.1,118.0 364.6,116.3 364.1,114.6 363.6,112.8 363.1,110.9 362.6,109.1 362.1,108.1 361.6,107.2 361.1,106.3 360.6,105.5 360.1,104.6 359.6,103.0 359.1,101.2 358.6,99.3 358.1,97.5 357.6,92.1 357.1,87.9 356.6,84.3 356.1,81.8 355.6,79.9 355.1,78.0 354.6,76.8 354.1,75.6 353.6,74.3 353.1,73.3 352.6,72.4 352.1,71.5 351.6,57.3" fill="rgba(90,160,195,0.11)"/>
<polygon points="351.6,57.3 352.1,60.3 352.6,60.5 353.1,60.8 353.6,61.0 354.1,61.2 354.6,61.5 355.1,61.9 355.6,62.2 356.1,62.6 356.6,63.0 357.1,63.4 357.6,64.2 358.1,64.9 358.6,65.6 359.1,66.6 359.6,67.6 360.1,69.0 360.6,71.4 361.1,73.5 361.6,75.1 362.1,76.6 362.6,77.6 363.1,78.1 363.6,78.7 364.1,79.3 364.6,79.9 365.1,80.5 365.6,81.4 366.1,82.3 366.6,83.3 367.1,84.3 367.6,86.2 368.1,89.5 368.6,89.9 369.1,90.3 369.6,90.8 370.1,91.2 370.6,91.6 371.1,92.1 371.6,92.9 372.1,93.7 372.6,94.4 373.1,95.3 373.6,96.1 374.1,97.0 374.6,97.9 375.1,98.6 375.6,99.3 376.1,100.0 376.6,100.7 377.1,101.3 377.6,102.0 378.1,102.7 378.6,103.2 379.1,103.7 379.6,104.1 380.1,104.6 380.6,105.0 381.1,105.2 381.6,105.5 382.1,105.7 382.6,105.9 383.1,106.2 383.6,106.4 384.1,106.7 384.6,107.1 385.1,107.5 385.6,107.9 386.1,108.3 386.6,108.7 387.1,109.1 387.6,109.3 388.1,109.5 388.6,109.7 389.1,109.9 389.6,110.1 390.1,110.2 390.6,110.4 391.1,110.6 391.6,110.8 392.1,111.0 392.6,111.4 393.1,111.8 393.6,112.2 394.1,112.6 394.6,113.0 395.1,113.4 395.6,113.7 396.1,113.9 396.6,114.0 397.1,114.2 397.6,114.4 398.1,114.6 398.6,114.8 399.1,114.9 399.6,115.1 400.1,115.3 400.6,115.7 401.1,116.1 401.6,116.5 402.1,116.9 402.6,117.3 403.1,117.7 403.6,118.1 404.1,118.4 404.6,118.7 405.1,119.0 405.6,119.3 406.1,119.6 406.6,119.9 407.1,120.2 407.6,120.5 408.1,120.8 408.6,121.1 409.1,121.3 409.6,121.5 410.1,121.8 410.6,122.0 411.1,122.3 411.6,122.5 412.1,122.8 412.6,123.0 413.1,123.2 413.6,123.4 414.1,123.6 414.6,123.8 415.1,123.9 415.6,124.1 416.1,124.2 416.6,124.3 417.1,124.3 417.6,124.3 418.1,124.4 418.6,124.4 419.1,124.4 419.6,124.4 420.1,124.5 420.6,124.5 421.1,124.5 421.6,124.6 422.1,124.6 422.6,124.6 423.1,124.7 423.6,124.7 424.1,124.7 424.6,124.8 425.1,124.8 425.6,124.8 426.1,124.9 426.6,124.9 427.1,124.9 427.6,125.0 428.1,125.0 428.6,125.0 429.1,125.1 429.6,125.1 430.1,125.1 430.6,125.2 431.1,125.2 431.6,125.3 432.1,125.3 432.6,125.3 433.1,125.4 433.6,125.4 434.1,125.5 434.6,125.5 435.1,125.6 435.6,125.6 436.1,125.6 436.6,125.7 437.1,125.7 437.6,125.8 438.1,125.8 438.6,125.8 439.1,125.9 439.6,125.9 440.1,126.0 440.6,126.0 441.1,126.2 441.6,126.5 442.1,126.8 442.6,127.1 443.1,127.5 443.6,127.8 444.1,128.1 444.6,128.4 445.1,128.5 445.6,128.5 446.1,128.6 446.6,128.6 447.1,128.7 447.6,128.7 448.1,128.7 448.6,128.8 449.1,128.8 449.6,128.9 450.1,128.9 450.6,129.0 451.1,129.0 451.6,129.1 452.1,129.1 452.6,129.2 453.1,129.4 453.6,129.5 454.1,129.6 454.6,129.7 455.1,129.9 455.6,130.0 456.1,130.1 456.6,130.2 457.1,130.3 457.6,130.5 458.1,130.6 458.6,130.7 459.1,130.8 459.6,130.9 460.1,131.0 460.6,131.1 461.1,131.1 461.6,131.2 462.1,131.3 462.6,131.4 463.1,131.5 463.6,131.6 464.1,131.7 464.6,131.8 465.1,131.9 465.6,132.0 466.1,132.1 466.6,132.1 467.1,132.2 467.6,132.2 468.1,132.3 468.6,132.4 469.1,132.4 469.6,132.5 470.1,132.6 470.6,132.6 471.1,132.7 471.6,132.8 472.1,132.8 472.6,132.8 473.1,132.8 473.6,132.8 474.1,132.8 474.6,132.8 475.1,132.8 475.6,132.8 476.1,132.8 476.6,132.8 477.1,132.8 477.6,132.8 478.1,132.8 478.6,132.8 479.1,132.8 479.6,132.8 480.1,132.8 480.6,132.8 481.1,132.8 481.6,132.8 482.1,132.8 482.6,132.8 483.1,132.8 483.6,132.8 484.1,132.8 484.6,132.8 485.1,132.8 485.6,132.8 486.1,132.8 486.6,132.8 487.1,132.8 487.6,132.8 488.1,132.8 488.6,132.8 489.1,132.8 489.6,132.8 490.1,132.8 490.6,132.8 491.1,132.9 491.6,133.1 492.1,133.4 492.6,133.6 493.1,133.8 493.6,134.1 494.1,134.3 494.6,134.5 495.1,134.5 495.6,134.6 496.1,134.6 496.6,134.6 497.1,134.6 497.6,134.7 498.1,134.7 498.6,134.7 499.1,134.8 499.6,134.8 500.1,134.8 500.6,134.8 501.1,134.9 501.6,134.9 502.1,134.9 502.6,134.9 503.1,135.0 503.6,135.0 504.1,135.0 504.6,135.0 505.1,135.1 505.2,135.1 505.2,159.9 505.1,159.9 504.6,159.9 504.1,159.9 503.6,159.8 503.1,159.8 502.6,159.8 502.1,159.7 501.6,159.7 501.1,159.7 500.6,159.6 500.1,159.6 499.6,159.6 499.1,159.6 498.6,159.5 498.1,159.5 497.6,159.5 497.1,159.4 496.6,159.4 496.1,159.4 495.6,159.3 495.1,159.3 494.6,159.3 494.1,159.0 493.6,158.7 493.1,158.5 492.6,158.2 492.1,157.9 491.6,157.7 491.1,157.4 490.6,157.2 490.1,157.2 489.6,157.2 489.1,157.2 488.6,157.2 488.1,157.2 487.6,157.2 487.1,157.2 486.6,157.2 486.1,157.2 485.6,157.2 485.1,157.2 484.6,157.2 484.1,157.2 483.6,157.2 483.1,157.2 482.6,157.2 482.1,157.2 481.6,157.2 481.1,157.2 480.6,157.2 480.1,157.2 479.6,157.2 479.1,157.2 478.6,157.2 478.1,157.2 477.6,157.2 477.1,157.2 476.6,157.2 476.1,157.2 475.6,157.2 475.1,157.2 474.6,157.2 474.1,157.2 473.6,157.2 473.1,157.2 472.6,157.2 472.1,157.2 471.6,157.2 471.1,157.2 470.6,157.1 470.1,157.0 469.6,157.0 469.1,156.9 468.6,156.8 468.1,156.7 467.6,156.7 467.1,156.6 466.6,156.5 466.1,156.4 465.6,156.3 465.1,156.2 464.6,156.1 464.1,156.0 463.6,155.9 463.1,155.8 462.6,155.7 462.1,155.6 461.6,155.5 461.1,155.4 460.6,155.3 460.1,155.2 459.6,155.1 459.1,155.0 458.6,154.9 458.1,154.8 457.6,154.7 457.1,154.5 456.6,154.4 456.1,154.3 455.6,154.1 455.1,154.0 454.6,153.9 454.1,153.7 453.6,153.6 453.1,153.5 452.6,153.3 452.1,153.2 451.6,153.2 451.1,153.1 450.6,153.1 450.1,153.0 449.6,152.9 449.1,152.9 448.6,152.8 448.1,152.8 447.6,152.7 447.1,152.7 446.6,152.6 446.1,152.6 445.6,152.5 445.1,152.5 444.6,152.4 444.1,152.1 443.6,151.7 443.1,151.4 442.6,151.0 442.1,150.7 441.6,150.3 441.1,150.0 440.6,149.8 440.1,149.7 439.6,149.7 439.1,149.6 438.6,149.6 438.1,149.5 437.6,149.5 437.1,149.4 436.6,149.4 436.1,149.4 435.6,149.3 435.1,149.3 434.6,149.2 434.1,149.2 433.6,149.1 433.1,149.1 432.6,149.0 432.1,149.0 431.6,148.9 431.1,148.9 430.6,148.9 430.1,148.8 429.6,148.8 429.1,148.7 428.6,148.7 428.1,148.7 427.6,148.6 427.1,148.6 426.6,148.5 426.1,148.5 425.6,148.5 425.1,148.4 424.6,148.4 424.1,148.4 423.6,148.3 423.1,148.3 422.6,148.3 422.1,148.2 421.6,148.2 421.1,148.2 420.6,148.1 420.1,148.1 419.6,148.1 419.1,148.0 418.6,148.0 418.1,148.0 417.6,147.9 417.1,147.9 416.6,147.9 416.1,147.8 415.6,147.7 415.1,147.5 414.6,147.3 414.1,147.1 413.6,146.9 413.1,146.7 412.6,146.5 412.1,146.2 411.6,146.0 411.1,145.7 410.6,145.5 410.1,145.2 409.6,145.0 409.1,144.7 408.6,144.4 408.1,144.2 407.6,143.9 407.1,143.5 406.6,143.2 406.1,142.9 405.6,142.5 405.1,142.2 404.6,141.9 404.1,141.6 403.6,141.2 403.1,140.8 402.6,140.4 402.1,140.0 401.6,139.5 401.1,139.1 400.6,138.7 400.1,138.2 399.6,138.0 399.1,137.8 398.6,137.6 398.1,137.4 397.6,137.2 397.1,137.0 396.6,136.8 396.1,136.6 395.6,136.5 395.1,136.1 394.6,135.7 394.1,135.3 393.6,134.8 393.1,134.4 392.6,133.9 392.1,133.5 391.6,133.2 391.1,133.0 390.6,132.8 390.1,132.6 389.6,132.4 389.1,132.3 388.6,132.1 388.1,131.9 387.6,131.7 387.1,131.4 386.6,130.9 386.1,130.5 385.6,130.1 385.1,129.6 384.6,129.2 384.1,128.8 383.6,128.4 383.1,128.1 382.6,127.9 382.1,127.6 381.6,127.3 381.1,127.1 380.6,126.8 380.1,126.4 379.6,125.9 379.1,125.3 378.6,124.8 378.1,124.3 377.6,123.5 377.1,122.7 376.6,122.0 376.1,121.2 375.6,120.4 375.1,119.7 374.6,118.8 374.1,117.8 373.6,116.8 373.1,115.8 372.6,114.9 372.1,114.0 371.6,113.1 371.1,112.2 370.6,111.6 370.1,111.1 369.6,110.6 369.1,110.1 368.6,109.6 368.1,109.1 367.6,105.3 367.1,103.0 366.6,101.8 366.1,100.6 365.6,99.4 365.1,98.3 364.6,97.5 364.1,96.8 363.6,96.1 363.1,95.4 362.6,94.6 362.1,93.4 361.6,91.4 361.1,89.5 360.6,86.6 360.1,83.2 359.6,81.3 359.1,79.8 358.6,78.4 358.1,77.3 357.6,76.1 357.1,75.0 356.6,74.3 356.1,73.7 355.6,73.0 355.1,72.4 354.6,71.7 354.1,71.3 353.6,70.9 353.1,70.5 352.6,70.1 352.1,69.8 351.6,57.3" fill="rgba(235,60,100,0.10)"/>
<polyline points="351.6,57.3 351.7,64.8 353.1,64.8 353.1,66.5 354.5,66.5 355.8,66.5 355.8,69.2 357.1,69.2 358.7,72.2 360.0,75.5 360.9,80.8 362.3,85.7 365.2,89.5 367.4,94.3 368.1,99.3 369.6,99.3 369.6,102.0 371.0,102.0 372.8,105.0 374.8,108.7 378.1,113.5 380.4,115.8 382.1,115.8 382.1,117.5 383.8,117.5 385.6,117.5 385.6,120.4 387.3,120.4 389.6,120.4 389.6,122.1 391.9,122.1 393.6,122.1 393.6,125.0 395.4,125.0 397.7,125.0 397.7,126.7 400.0,126.7 401.8,126.7 401.8,129.6 403.5,129.6 405.8,129.6 405.8,132.5 408.1,132.5 410.4,132.5 410.4,134.8 412.7,134.8 414.2,134.8 414.2,136.0 415.8,136.0 422.5,136.0 422.5,136.9 429.2,136.9 435.0,136.9 435.0,137.9 440.8,137.9 442.7,137.9 442.7,140.4 444.6,140.4 448.5,140.4 448.5,141.2 452.3,141.2 455.2,141.2 455.2,142.7 458.1,142.7 462.0,142.7 462.0,144.2 465.8,144.2 468.6,144.2 468.6,145.0 471.5,145.0 490.8,145.0 492.7,145.0 492.7,146.9 494.6,146.9 499.9,146.9 499.9,147.5 505.2,147.5" fill="none" stroke="#dc0a3c" stroke-width="2.3" stroke-linejoin="miter"/>
<polyline points="351.6,57.3 351.8,66.0 353.5,68.5 355.2,72.0 356.4,76.0 357.0,79.5 357.6,84.0 358.0,88.5 360.0,95.2 362.5,99.2 364.5,106.0 365.8,110.0 367.7,115.8 371.2,121.5 372.9,121.5 372.9,123.8 374.6,123.8 379.2,128.5 381.5,133.1 386.2,136.5 388.5,136.5 388.5,139.4 390.8,139.4 393.6,139.4 393.6,140.6 396.5,140.6 400.0,140.6 400.0,141.2 403.5,141.2 406.4,141.2 406.4,142.3 409.2,142.3 413.4,142.3 413.4,143.1 417.7,143.1 421.5,143.1 421.5,144.6 425.4,144.6 430.2,144.6 430.2,146.5 435.0,146.5 439.8,146.5 439.8,148.5 444.6,148.5 448.5,148.5 448.5,149.4 452.3,149.4 456.1,149.4 456.1,150.0 460.0,150.0 461.9,150.0 461.9,151.9 463.8,151.9 466.7,151.9 466.7,153.8 469.6,153.8 473.5,153.8 473.5,155.2 477.3,155.2 479.2,155.2 479.2,156.5 481.2,156.5 484.0,156.5 484.0,157.7 486.9,157.7 505.2,157.7" fill="none" stroke="#175781" stroke-width="1.9" stroke-linejoin="miter"/>
<polyline points="351.6,57.0 351.7,65.6" fill="none" stroke="#4a1f48" stroke-width="1.6" stroke-linecap="round"/>
<line x1="346.29999999999995" y1="51.8" x2="346.29999999999995" y2="243.7" stroke="#111" stroke-width="1.4"/>
<line x1="345.59999999999997" y1="243.0" x2="510.7" y2="243.0" stroke="#111" stroke-width="1.5"/>
<line x1="342.79999999999995" y1="57.0" x2="346.29999999999995" y2="57.0" stroke="#111" stroke-width="1.2"/>
<text x="338.0" y="60.5" font-size="9.9" text-anchor="end" font-weight="normal" font-style="normal" fill="#1a1a1a" >1.0</text>
<line x1="342.79999999999995" y1="93.1" x2="346.29999999999995" y2="93.1" stroke="#111" stroke-width="1.2"/>
<text x="338.0" y="96.6" font-size="9.9" text-anchor="end" font-weight="normal" font-style="normal" fill="#1a1a1a" >0.8</text>
<line x1="342.79999999999995" y1="129.4" x2="346.29999999999995" y2="129.4" stroke="#111" stroke-width="1.2"/>
<text x="338.0" y="132.9" font-size="9.9" text-anchor="end" font-weight="normal" font-style="normal" fill="#1a1a1a" >0.6</text>
<line x1="342.79999999999995" y1="165.7" x2="346.29999999999995" y2="165.7" stroke="#111" stroke-width="1.2"/>
<text x="338.0" y="169.2" font-size="9.9" text-anchor="end" font-weight="normal" font-style="normal" fill="#1a1a1a" >0.4</text>
<line x1="342.79999999999995" y1="202.0" x2="346.29999999999995" y2="202.0" stroke="#111" stroke-width="1.2"/>
<text x="338.0" y="205.5" font-size="9.9" text-anchor="end" font-weight="normal" font-style="normal" fill="#1a1a1a" >0.2</text>
<line x1="342.79999999999995" y1="238.3" x2="346.29999999999995" y2="238.3" stroke="#111" stroke-width="1.2"/>
<text x="338.0" y="241.8" font-size="9.9" text-anchor="end" font-weight="normal" font-style="normal" fill="#1a1a1a" >0.0</text>
<line x1="351.29999999999995" y1="243.0" x2="351.29999999999995" y2="246.6" stroke="#111" stroke-width="1.2"/>
<text x="351.29999999999995" y="259.8" font-size="10.2" text-anchor="middle" font-weight="normal" font-style="normal" fill="#1a1a1a" >0</text>
<line x1="382.09999999999997" y1="243.0" x2="382.09999999999997" y2="246.6" stroke="#111" stroke-width="1.2"/>
<text x="382.09999999999997" y="259.8" font-size="10.2" text-anchor="middle" font-weight="normal" font-style="normal" fill="#1a1a1a" >1</text>
<line x1="412.9" y1="243.0" x2="412.9" y2="246.6" stroke="#111" stroke-width="1.2"/>
<text x="412.9" y="259.8" font-size="10.2" text-anchor="middle" font-weight="normal" font-style="normal" fill="#1a1a1a" >2</text>
<line x1="443.69999999999993" y1="243.0" x2="443.69999999999993" y2="246.6" stroke="#111" stroke-width="1.2"/>
<text x="443.69999999999993" y="259.8" font-size="10.2" text-anchor="middle" font-weight="normal" font-style="normal" fill="#1a1a1a" >3</text>
<line x1="474.49999999999994" y1="243.0" x2="474.49999999999994" y2="246.6" stroke="#111" stroke-width="1.2"/>
<text x="474.49999999999994" y="259.8" font-size="10.2" text-anchor="middle" font-weight="normal" font-style="normal" fill="#1a1a1a" >4</text>
<line x1="505.29999999999995" y1="243.0" x2="505.29999999999995" y2="246.6" stroke="#111" stroke-width="1.2"/>
<text x="505.29999999999995" y="259.8" font-size="10.2" text-anchor="middle" font-weight="normal" font-style="normal" fill="#1a1a1a" >5</text>
<text transform="translate(382.29999999999995,277.2) scale(0.595,1)" x="0" y="0" font-size="13" fill="#1a1a1a" style="stroke-width:0.6px;letter-spacing:0.55px">Years after transplant</text>
<text transform="translate(318.0,147.3) rotate(-90)" x="0" y="0" font-size="12.5" text-anchor="middle" fill="#1a1a1a" style="stroke-width:0.6px" textLength="16.6" lengthAdjust="spacingAndGlyphs">DFS</text>
<text x="428.2" y="45.0" font-size="12" text-anchor="middle" font-weight="normal" font-style="normal" fill="#1a1a1a" >DFS</text>
<text x="275.4" y="21" font-size="14.5" text-anchor="start" font-weight="bold" font-style="normal" fill="#000" style="stroke-width:0.7px;stroke:#000">B</text>
<line x1="351.9" y1="212.7" x2="367.5" y2="212.7" stroke="#dc0a3c" stroke-width="2.4"/>
<line x1="351.9" y1="230.3" x2="367.5" y2="230.3" stroke="#175781" stroke-width="2.4"/>
<text x="373.29999999999995" y="217.0" font-size="10" text-anchor="start" font-weight="normal" font-style="normal" fill="#1a1a1a" >MPAL</text>
<text x="373.29999999999995" y="234.3" font-size="10" text-anchor="start" font-weight="normal" font-style="normal" fill="#1a1a1a" >ALL</text>
<text x="425.6" y="198.8" font-size="10" text-anchor="middle" font-weight="normal" font-style="normal" fill="#1a1a1a" >5y-DFS</text>
<text x="411.4" y="216.8" font-size="10" text-anchor="start" font-weight="normal" font-style="normal" fill="#1a1a1a" >50.1%</text>
<text x="411.4" y="234.0" font-size="10" text-anchor="start" font-weight="normal" font-style="normal" fill="#1a1a1a" >44.4%</text>
<text x="455.1" y="226.0" font-size="10.6" text-anchor="start" font-weight="normal" font-style="italic" fill="#1a1a1a" >P</text>
<text x="463.9" y="226.2" font-size="11.5" text-anchor="start" font-weight="normal" font-style="normal" fill="#1a1a1a" >=</text>
<text x="473.29999999999995" y="226.0" font-size="10.6" text-anchor="start" font-weight="normal" font-style="normal" fill="#1a1a1a" >.110</text>
<text x="275.7" y="292.4" font-size="9.7" text-anchor="start" font-weight="normal" font-style="normal" fill="#1a1a1a" >Number at risk</text>
<text x="338.3" y="307.4" font-size="9.7" text-anchor="end" font-weight="normal" font-style="normal" fill="#1a1a1a" >MPAL</text>
<text x="338.3" y="322.3" font-size="9.7" text-anchor="end" font-weight="normal" font-style="normal" fill="#1a1a1a" >ALL</text>
<text x="351.4" y="307.6" font-size="10.5" text-anchor="middle" font-weight="normal" font-style="normal" fill="#1a1a1a" >253</text>
<text x="351.4" y="322.5" font-size="10.5" text-anchor="middle" font-weight="normal" font-style="normal" fill="#1a1a1a" >258</text>
<text x="382.2" y="307.6" font-size="10.5" text-anchor="middle" font-weight="normal" font-style="normal" fill="#1a1a1a" >161</text>
<text x="382.2" y="322.5" font-size="10.5" text-anchor="middle" font-weight="normal" font-style="normal" fill="#1a1a1a" >137</text>
<text x="413.0" y="307.6" font-size="10.5" text-anchor="middle" font-weight="normal" font-style="normal" fill="#1a1a1a" >127</text>
<text x="413.0" y="322.5" font-size="10.5" text-anchor="middle" font-weight="normal" font-style="normal" fill="#1a1a1a" >113</text>
<text x="443.79999999999995" y="307.6" font-size="10.5" text-anchor="middle" font-weight="normal" font-style="normal" fill="#1a1a1a" >104</text>
<text x="443.79999999999995" y="322.5" font-size="10.5" text-anchor="middle" font-weight="normal" font-style="normal" fill="#1a1a1a" >92</text>
<text x="474.59999999999997" y="307.6" font-size="10.5" text-anchor="middle" font-weight="normal" font-style="normal" fill="#1a1a1a" >84</text>
<text x="474.59999999999997" y="322.5" font-size="10.5" text-anchor="middle" font-weight="normal" font-style="normal" fill="#1a1a1a" >73</text>
<text x="505.4" y="307.6" font-size="10.5" text-anchor="middle" font-weight="normal" font-style="normal" fill="#1a1a1a" >69</text>
<text x="505.4" y="322.5" font-size="10.5" text-anchor="middle" font-weight="normal" font-style="normal" fill="#1a1a1a" >58</text>
<polygon points="84.7,582.0 85.2,566.3 85.7,566.2 86.2,566.0 86.7,565.8 87.2,563.7 87.7,561.5 88.2,559.4 88.7,558.2 89.2,557.3 89.7,556.4 90.2,555.5 90.7,554.9 91.2,554.3 91.7,553.7 92.2,553.1 92.7,552.5 93.2,552.0 93.7,551.1 94.2,549.9 94.7,548.8 95.2,547.7 95.7,546.6 96.2,545.5 96.7,544.3 97.2,543.2 97.7,542.2 98.2,541.5 98.7,540.9 99.2,540.2 99.7,539.6 100.2,538.9 100.7,538.3 101.2,537.6 101.7,536.9 102.2,536.2 102.7,535.5 103.2,535.1 103.7,534.6 104.2,534.2 104.7,533.8 105.2,533.4 105.7,533.0 106.2,532.5 106.7,532.1 107.2,531.7 107.7,531.2 108.2,530.7 108.7,530.3 109.2,529.8 109.7,529.3 110.2,528.9 110.7,528.4 111.2,527.9 111.7,527.5 112.2,527.0 112.7,526.5 113.2,526.1 113.7,525.9 114.2,525.8 114.7,525.6 115.2,525.4 115.7,525.2 116.2,525.0 116.7,524.8 117.2,524.7 117.7,524.5 118.2,524.3 118.7,524.1 119.2,523.9 119.7,523.8 120.2,523.6 120.7,523.5 121.2,523.3 121.7,523.2 122.2,523.0 122.7,522.9 123.2,522.7 123.7,522.6 124.2,522.5 124.7,522.5 125.2,522.4 125.7,522.3 126.2,522.2 126.7,522.1 127.2,522.1 127.7,522.0 128.2,521.9 128.7,521.8 129.2,521.7 129.7,521.7 130.2,521.6 130.7,521.6 131.2,521.5 131.7,521.5 132.2,521.4 132.7,521.4 133.2,521.3 133.7,521.3 134.2,521.2 134.7,521.2 135.2,521.1 135.7,521.1 136.2,521.0 136.7,521.0 137.2,520.9 137.7,520.9 138.2,520.9 138.7,520.8 139.2,520.8 139.7,520.7 140.2,520.7 140.7,520.6 141.2,520.6 141.7,520.5 142.2,520.5 142.7,520.4 143.2,520.4 143.7,520.3 144.2,520.3 144.7,520.3 145.2,520.3 145.7,520.3 146.2,520.3 146.7,520.3 147.2,520.2 147.7,520.2 148.2,520.2 148.7,520.2 149.2,520.2 149.7,520.2 150.2,520.2 150.7,520.2 151.2,520.2 151.7,520.2 152.2,520.1 152.7,520.1 153.2,520.1 153.7,520.1 154.2,520.1 154.7,520.1 155.2,520.1 155.7,520.1 156.2,520.1 156.7,520.1 157.2,520.0 157.7,520.0 158.2,520.0 158.7,520.0 159.2,520.0 159.7,520.0 160.2,520.0 160.7,520.0 161.2,520.0 161.7,520.0 162.2,519.9 162.7,519.9 163.2,519.9 163.7,519.9 164.2,519.9 164.7,519.9 165.2,519.9 165.7,519.9 166.2,519.9 166.7,519.9 167.2,519.8 167.7,519.8 168.2,519.8 168.7,519.8 169.2,519.8 169.7,519.8 170.2,519.8 170.7,519.8 171.2,519.8 171.7,519.8 172.2,519.7 172.7,519.7 173.2,519.5 173.7,519.3 174.2,519.0 174.7,518.7 175.2,518.4 175.7,518.3 176.2,518.3 176.7,518.3 177.2,518.3 177.7,518.3 178.2,518.3 178.7,518.3 179.2,518.3 179.7,518.3 180.2,518.3 180.7,518.3 181.2,518.3 181.7,518.3 182.2,518.3 182.7,518.3 183.2,518.3 183.7,518.3 184.2,518.3 184.7,518.3 185.2,518.3 185.7,518.3 186.2,518.3 186.7,518.3 187.2,518.3 187.7,518.3 188.2,518.3 188.7,518.3 189.2,518.3 189.7,518.3 190.2,518.3 190.7,518.3 191.2,518.3 191.7,518.3 192.2,518.3 192.7,518.3 193.2,518.3 193.7,518.3 194.2,518.3 194.7,518.3 195.2,518.3 195.7,518.3 196.2,518.3 196.7,518.3 197.2,518.3 197.7,518.3 198.2,518.3 198.7,518.3 199.2,518.3 199.7,518.3 200.2,518.3 200.7,518.3 201.2,518.3 201.7,518.3 202.2,518.3 202.7,518.3 203.2,518.3 203.7,518.3 204.2,518.3 204.7,518.3 205.2,518.3 205.7,518.3 206.2,518.3 206.7,518.2 207.2,518.0 207.7,517.8 208.2,517.6 208.7,517.3 209.2,517.2 209.7,517.2 210.2,517.2 210.7,517.2 211.2,517.2 211.7,517.2 212.2,517.2 212.7,517.2 213.2,517.2 213.7,517.2 214.2,517.2 214.7,517.2 215.2,517.2 215.7,517.2 216.2,517.2 216.7,517.2 217.2,517.2 217.7,517.2 218.2,517.2 218.7,517.2 219.2,517.2 219.7,517.2 220.2,517.2 220.7,517.2 221.2,517.2 221.7,517.2 222.2,517.2 222.7,517.2 223.2,517.2 223.7,517.2 224.2,517.2 224.7,517.2 225.2,517.2 225.7,517.2 226.2,517.2 226.7,517.2 227.2,517.2 227.7,517.2 228.2,517.2 228.7,517.2 229.2,517.2 229.7,517.2 230.2,517.2 230.7,517.2 231.2,517.2 231.7,517.2 232.2,517.2 232.7,517.2 233.2,517.2 233.7,517.2 234.2,517.2 234.2,540.2 233.7,540.2 233.2,540.2 232.7,540.2 232.2,540.2 231.7,540.2 231.2,540.2 230.7,540.2 230.2,540.2 229.7,540.2 229.2,540.2 228.7,540.2 228.2,540.2 227.7,540.2 227.2,540.2 226.7,540.2 226.2,540.2 225.7,540.2 225.2,540.2 224.7,540.2 224.2,540.2 223.7,540.2 223.2,540.2 222.7,540.2 222.2,540.2 221.7,540.2 221.2,540.2 220.7,540.2 220.2,540.2 219.7,540.2 219.2,540.2 218.7,540.2 218.2,540.2 217.7,540.2 217.2,540.2 216.7,540.2 216.2,540.2 215.7,540.2 215.2,540.2 214.7,540.2 214.2,540.2 213.7,540.2 213.2,540.2 212.7,540.2 212.2,540.2 211.7,540.2 211.2,540.2 210.7,540.2 210.2,540.2 209.7,540.2 209.2,540.2 208.7,540.3 208.2,540.4 207.7,540.6 207.2,540.7 206.7,540.8 206.2,540.9 205.7,540.9 205.2,540.9 204.7,540.9 204.2,540.9 203.7,540.9 203.2,540.9 202.7,540.9 202.2,540.9 201.7,540.9 201.2,540.9 200.7,540.9 200.2,540.9 199.7,540.9 199.2,540.9 198.7,540.9 198.2,540.9 197.7,540.9 197.2,540.9 196.7,540.9 196.2,540.9 195.7,540.9 195.2,540.9 194.7,540.9 194.2,540.9 193.7,540.9 193.2,540.9 192.7,540.9 192.2,540.9 191.7,540.9 191.2,540.9 190.7,540.9 190.2,540.9 189.7,540.9 189.2,540.9 188.7,540.9 188.2,540.9 187.7,540.9 187.2,540.9 186.7,540.9 186.2,540.9 185.7,540.9 185.2,540.9 184.7,540.9 184.2,540.9 183.7,540.9 183.2,540.9 182.7,540.9 182.2,540.9 181.7,540.9 181.2,540.9 180.7,540.9 180.2,540.9 179.7,540.9 179.2,540.9 178.7,540.9 178.2,540.9 177.7,540.9 177.2,540.9 176.7,540.9 176.2,540.9 175.7,540.9 175.2,540.9 174.7,541.1 174.2,541.3 173.7,541.5 173.2,541.8 172.7,541.9 172.2,541.9 171.7,541.9 171.2,541.9 170.7,541.9 170.2,541.9 169.7,541.9 169.2,541.9 168.7,541.9 168.2,541.9 167.7,541.9 167.2,542.0 166.7,542.0 166.2,542.0 165.7,542.0 165.2,542.0 164.7,542.0 164.2,542.0 163.7,542.0 163.2,542.0 162.7,542.0 162.2,542.0 161.7,542.0 161.2,542.0 160.7,542.0 160.2,542.1 159.7,542.1 159.2,542.1 158.7,542.1 158.2,542.1 157.7,542.1 157.2,542.1 156.7,542.1 156.2,542.1 155.7,542.1 155.2,542.1 154.7,542.1 154.2,542.1 153.7,542.2 153.2,542.2 152.7,542.2 152.2,542.2 151.7,542.2 151.2,542.2 150.7,542.2 150.2,542.2 149.7,542.2 149.2,542.2 148.7,542.2 148.2,542.2 147.7,542.2 147.2,542.2 146.7,542.3 146.2,542.3 145.7,542.3 145.2,542.3 144.7,542.3 144.2,542.3 143.7,542.3 143.2,542.4 142.7,542.4 142.2,542.4 141.7,542.5 141.2,542.5 140.7,542.5 140.2,542.6 139.7,542.6 139.2,542.6 138.7,542.7 138.2,542.7 137.7,542.8 137.2,542.8 136.7,542.8 136.2,542.9 135.7,542.9 135.2,542.9 134.7,543.0 134.2,543.0 133.7,543.0 133.2,543.1 132.7,543.1 132.2,543.1 131.7,543.2 131.2,543.2 130.7,543.3 130.2,543.3 129.7,543.3 129.2,543.4 128.7,543.5 128.2,543.5 127.7,543.6 127.2,543.6 126.7,543.7 126.2,543.8 125.7,543.8 125.2,543.9 124.7,544.0 124.2,544.0 123.7,544.1 123.2,544.2 122.7,544.3 122.2,544.4 121.7,544.5 121.2,544.6 120.7,544.8 120.2,544.9 119.7,545.0 119.2,545.1 118.7,545.3 118.2,545.4 117.7,545.5 117.2,545.7 116.7,545.8 116.2,546.0 115.7,546.1 115.2,546.3 114.7,546.4 114.2,546.5 113.7,546.7 113.2,546.8 112.7,547.1 112.2,547.5 111.7,547.9 111.2,548.3 110.7,548.6 110.2,549.0 109.7,549.4 109.2,549.7 108.7,550.1 108.2,550.5 107.7,550.9 107.2,551.2 106.7,551.6 106.2,551.9 105.7,552.3 105.2,552.6 104.7,552.9 104.2,553.3 103.7,553.6 103.2,553.9 102.7,554.3 102.2,554.9 101.7,555.4 101.2,556.0 100.7,556.5 100.2,557.0 99.7,557.5 99.2,558.1 98.7,558.6 98.2,559.1 97.7,559.6 97.2,560.4 96.7,561.3 96.2,562.1 95.7,563.0 95.2,563.9 94.7,564.7 94.2,565.5 93.7,566.4 93.2,567.0 92.7,567.5 92.2,567.9 91.7,568.3 91.2,568.7 90.7,569.1 90.2,569.6 89.7,570.2 89.2,570.9 88.7,571.5 88.2,572.3 87.7,573.8 87.2,575.2 86.7,576.6 86.2,576.6 85.7,576.7 85.2,576.8 84.7,582.0" fill="rgba(90,160,195,0.11)"/>
<polygon points="84.7,582.0 85.2,567.8 85.7,567.8 86.2,567.9 86.7,568.0 87.2,568.0 87.7,568.1 88.2,568.2 88.7,568.3 89.2,567.0 89.7,565.5 90.2,564.0 90.7,562.7 91.2,561.5 91.7,560.4 92.2,559.2 92.7,558.2 93.2,557.3 93.7,556.5 94.2,555.6 94.7,554.9 95.2,554.3 95.7,553.7 96.2,553.1 96.7,552.5 97.2,552.0 97.7,551.2 98.2,549.7 98.7,548.2 99.2,546.7 99.7,545.5 100.2,545.1 100.7,544.8 101.2,544.4 101.7,544.0 102.2,543.6 102.7,543.3 103.2,542.8 103.7,542.2 104.2,541.7 104.7,541.1 105.2,540.6 105.7,540.0 106.2,539.6 106.7,539.2 107.2,538.8 107.7,538.5 108.2,538.1 108.7,537.7 109.2,537.2 109.7,536.7 110.2,536.1 110.7,535.5 111.2,535.1 111.7,535.0 112.2,535.0 112.7,534.9 113.2,534.8 113.7,534.8 114.2,534.7 114.7,534.6 115.2,534.6 115.7,534.2 116.2,533.9 116.7,533.5 117.2,533.1 117.7,532.8 118.2,532.4 118.7,532.1 119.2,531.7 119.7,531.6 120.2,531.6 120.7,531.6 121.2,531.6 121.7,531.6 122.2,531.6 122.7,531.6 123.2,531.6 123.7,531.6 124.2,531.6 124.7,531.6 125.2,531.6 125.7,531.6 126.2,531.6 126.7,531.6 127.2,531.6 127.7,531.6 128.2,531.6 128.7,531.6 129.2,531.6 129.7,531.6 130.2,531.3 130.7,531.0 131.2,530.7 131.7,530.4 132.2,530.1 132.7,529.8 133.2,529.5 133.7,529.2 134.2,528.9 134.7,528.6 135.2,528.3 135.7,528.0 136.2,527.7 136.7,527.4 137.2,527.1 137.7,526.8 138.2,526.5 138.7,526.2 139.2,525.9 139.7,525.6 140.2,525.3 140.7,525.1 141.2,524.8 141.7,524.5 142.2,524.3 142.7,524.0 143.2,523.8 143.7,523.5 144.2,523.3 144.7,523.1 145.2,522.9 145.7,522.6 146.2,522.4 146.7,522.3 147.2,522.3 147.7,522.3 148.2,522.3 148.7,522.3 149.2,522.3 149.7,522.3 150.2,522.3 150.7,522.3 151.2,522.3 151.7,522.3 152.2,522.3 152.7,522.3 153.2,522.2 153.7,522.2 154.2,522.2 154.7,522.2 155.2,522.2 155.7,522.2 156.2,522.2 156.7,522.2 157.2,522.2 157.7,522.2 158.2,522.2 158.7,522.2 159.2,522.2 159.7,522.2 160.2,522.2 160.7,522.2 161.2,522.2 161.7,522.2 162.2,522.2 162.7,522.2 163.2,522.2 163.7,522.2 164.2,522.2 164.7,522.1 165.2,522.1 165.7,522.1 166.2,522.1 166.7,522.1 167.2,522.1 167.7,522.1 168.2,522.1 168.7,522.1 169.2,522.1 169.7,522.1 170.2,522.1 170.7,522.1 171.2,522.1 171.7,522.1 172.2,522.1 172.7,522.1 173.2,522.0 173.7,521.8 174.2,521.6 174.7,521.4 175.2,521.2 175.7,521.1 176.2,520.9 176.7,520.7 177.2,520.5 177.7,520.3 178.2,520.2 178.7,520.1 179.2,520.0 179.7,519.9 180.2,519.8 180.7,519.7 181.2,519.6 181.7,519.5 182.2,519.4 182.7,519.3 183.2,519.2 183.7,519.1 184.2,519.1 184.7,519.1 185.2,519.1 185.7,519.1 186.2,519.1 186.7,519.1 187.2,519.1 187.7,519.1 188.2,519.1 188.7,519.1 189.2,519.1 189.7,519.1 190.2,519.1 190.7,519.1 191.2,519.1 191.7,519.1 192.2,519.1 192.7,519.1 193.2,519.1 193.7,519.1 194.2,519.1 194.7,519.1 195.2,519.1 195.7,519.1 196.2,519.1 196.7,519.1 197.2,519.1 197.7,519.1 198.2,519.1 198.7,519.1 199.2,519.1 199.7,519.1 200.2,519.1 200.7,519.1 201.2,519.1 201.7,519.1 202.2,519.1 202.7,519.1 203.2,519.1 203.7,519.1 204.2,519.1 204.7,519.1 205.2,519.1 205.7,519.1 206.2,519.1 206.7,519.1 207.2,519.1 207.7,519.1 208.2,519.1 208.7,519.1 209.2,519.1 209.7,519.1 210.2,519.1 210.7,519.1 211.2,519.1 211.7,519.1 212.2,519.1 212.7,519.1 213.2,519.1 213.7,519.1 214.2,519.1 214.7,519.1 215.2,519.1 215.7,519.1 216.2,519.1 216.7,519.1 217.2,519.1 217.7,519.1 218.2,519.1 218.7,519.1 219.2,519.1 219.7,519.1 220.2,519.1 220.7,519.1 221.2,519.1 221.7,519.1 222.2,519.1 222.7,519.1 223.2,519.1 223.7,519.0 224.2,518.8 224.7,518.7 225.2,518.6 225.7,518.6 226.2,518.6 226.7,518.6 227.2,518.6 227.7,518.6 228.2,518.6 228.7,518.6 229.2,518.6 229.7,518.6 230.2,518.6 230.7,518.6 231.2,518.6 231.7,518.6 232.2,518.6 232.7,518.6 233.2,518.6 233.7,518.6 234.2,518.6 234.2,541.8 233.7,541.8 233.2,541.8 232.7,541.8 232.2,541.8 231.7,541.8 231.2,541.8 230.7,541.8 230.2,541.8 229.7,541.8 229.2,541.8 228.7,541.8 228.2,541.8 227.7,541.8 227.2,541.8 226.7,541.8 226.2,541.8 225.7,541.8 225.2,541.8 224.7,541.9 224.2,542.0 223.7,542.1 223.2,542.1 222.7,542.1 222.2,542.1 221.7,542.1 221.2,542.1 220.7,542.1 220.2,542.1 219.7,542.1 219.2,542.1 218.7,542.1 218.2,542.1 217.7,542.1 217.2,542.1 216.7,542.1 216.2,542.1 215.7,542.1 215.2,542.1 214.7,542.1 214.2,542.1 213.7,542.1 213.2,542.1 212.7,542.1 212.2,542.1 211.7,542.1 211.2,542.1 210.7,542.1 210.2,542.1 209.7,542.1 209.2,542.1 208.7,542.1 208.2,542.1 207.7,542.1 207.2,542.1 206.7,542.1 206.2,542.1 205.7,542.1 205.2,542.1 204.7,542.1 204.2,542.1 203.7,542.1 203.2,542.1 202.7,542.1 202.2,542.1 201.7,542.1 201.2,542.1 200.7,542.1 200.2,542.1 199.7,542.1 199.2,542.1 198.7,542.1 198.2,542.1 197.7,542.1 197.2,542.1 196.7,542.1 196.2,542.1 195.7,542.1 195.2,542.1 194.7,542.1 194.2,542.1 193.7,542.1 193.2,542.1 192.7,542.1 192.2,542.1 191.7,542.1 191.2,542.1 190.7,542.1 190.2,542.1 189.7,542.1 189.2,542.1 188.7,542.1 188.2,542.1 187.7,542.1 187.2,542.1 186.7,542.1 186.2,542.1 185.7,542.1 185.2,542.1 184.7,542.1 184.2,542.1 183.7,542.1 183.2,542.2 182.7,542.3 182.2,542.4 181.7,542.4 181.2,542.5 180.7,542.6 180.2,542.7 179.7,542.7 179.2,542.8 178.7,542.9 178.2,543.0 177.7,543.1 177.2,543.2 176.7,543.3 176.2,543.4 175.7,543.6 175.2,543.7 174.7,543.8 174.2,544.0 173.7,544.1 173.2,544.2 172.7,544.3 172.2,544.3 171.7,544.3 171.2,544.3 170.7,544.3 170.2,544.3 169.7,544.3 169.2,544.3 168.7,544.3 168.2,544.4 167.7,544.4 167.2,544.4 166.7,544.4 166.2,544.4 165.7,544.4 165.2,544.4 164.7,544.4 164.2,544.4 163.7,544.4 163.2,544.4 162.7,544.4 162.2,544.4 161.7,544.4 161.2,544.4 160.7,544.4 160.2,544.4 159.7,544.4 159.2,544.4 158.7,544.4 158.2,544.4 157.7,544.4 157.2,544.4 156.7,544.4 156.2,544.4 155.7,544.4 155.2,544.4 154.7,544.4 154.2,544.4 153.7,544.4 153.2,544.5 152.7,544.5 152.2,544.5 151.7,544.5 151.2,544.5 150.7,544.5 150.2,544.5 149.7,544.5 149.2,544.5 148.7,544.5 148.2,544.5 147.7,544.5 147.2,544.5 146.7,544.5 146.2,544.6 145.7,544.7 145.2,544.9 144.7,545.1 144.2,545.3 143.7,545.5 143.2,545.7 142.7,545.8 142.2,546.0 141.7,546.2 141.2,546.5 140.7,546.7 140.2,546.9 139.7,547.1 139.2,547.3 138.7,547.5 138.2,547.8 137.7,548.0 137.2,548.3 136.7,548.5 136.2,548.7 135.7,549.0 135.2,549.2 134.7,549.4 134.2,549.7 133.7,549.9 133.2,550.1 132.7,550.4 132.2,550.6 131.7,550.8 131.2,551.0 130.7,551.3 130.2,551.5 129.7,551.7 129.2,551.8 128.7,551.8 128.2,551.8 127.7,551.8 127.2,551.8 126.7,551.8 126.2,551.8 125.7,551.8 125.2,551.8 124.7,551.8 124.2,551.8 123.7,551.8 123.2,551.8 122.7,551.8 122.2,551.8 121.7,551.8 121.2,551.8 120.7,551.8 120.2,551.8 119.7,551.8 119.2,551.8 118.7,552.1 118.2,552.4 117.7,552.6 117.2,552.9 116.7,553.2 116.2,553.5 115.7,553.8 115.2,554.0 114.7,554.1 114.2,554.1 113.7,554.2 113.2,554.2 112.7,554.3 112.2,554.3 111.7,554.4 111.2,554.5 110.7,554.8 110.2,555.2 109.7,555.7 109.2,556.1 108.7,556.5 108.2,556.8 107.7,557.1 107.2,557.4 106.7,557.7 106.2,558.0 105.7,558.3 105.2,558.8 104.7,559.2 104.2,559.6 103.7,560.0 103.2,560.5 102.7,560.9 102.2,561.1 101.7,561.4 101.2,561.7 100.7,562.0 100.2,562.3 99.7,562.6 99.2,563.5 98.7,564.7 98.2,565.8 97.7,566.9 97.2,567.4 96.7,567.9 96.2,568.3 95.7,568.7 95.2,569.1 94.7,569.5 94.2,570.1 93.7,570.7 93.2,571.3 92.7,571.9 92.2,572.6 91.7,573.4 91.2,574.1 90.7,574.9 90.2,575.7 89.7,576.7 89.2,577.6 88.7,578.3 88.2,578.2 87.7,578.2 87.2,578.1 86.7,578.0 86.2,577.9 85.7,577.9 85.2,577.8 84.7,582.0" fill="rgba(235,60,100,0.10)"/>
<polyline points="84.7,582.0 84.7,572.7 86.8,572.7 86.8,573.3 88.8,573.3 90.3,569.6 92.4,565.5 94.5,562.4 96.0,562.4 96.0,559.3 97.6,559.3 99.6,554.1 101.2,554.1 101.2,552.0 102.8,552.0 104.3,552.0 104.3,549.0 105.9,549.0 107.5,549.0 107.5,546.9 109.0,546.9 111.0,544.8 113.1,544.8 113.1,544.3 115.2,544.3 117.2,544.3 117.2,541.7 119.3,541.7 129.6,541.7 132.0,541.7 132.0,539.2 134.4,539.2 136.8,539.2 136.8,536.6 139.2,536.6 140.8,536.6 140.8,535.0 142.5,535.0 144.4,535.0 144.4,533.4 146.4,533.4 172.9,533.2 175.3,533.2 175.3,531.7 177.7,531.7 180.7,531.7 180.7,530.6 183.7,530.6 223.4,530.6 225.0,530.2 234.2,530.2" fill="none" stroke="#dc0a3c" stroke-width="2.3" stroke-linejoin="miter"/>
<polyline points="84.7,582.0 84.7,571.7 86.7,571.2 88.3,565.5 90.3,562.4 91.8,562.4 91.8,559.3 93.4,559.3 95.5,555.2 97.6,551.0 100.7,547.4 102.8,544.8 104.8,544.8 104.8,541.7 106.9,541.7 108.5,541.7 108.5,539.1 110.0,539.1 111.5,539.1 111.5,536.5 113.1,536.5 114.7,536.5 114.7,535.5 116.2,535.5 117.8,535.5 117.8,534.5 119.3,534.5 121.3,534.5 121.3,533.4 123.4,533.4 126.5,533.4 126.5,532.5 129.6,532.5 136.8,532.5 136.8,531.3 144.0,531.3 158.4,531.3 158.4,530.8 172.9,530.8 175.3,529.6 206.5,529.6 207.8,529.6 207.8,528.7 209.0,528.7 234.2,528.7" fill="none" stroke="#175781" stroke-width="1.9" stroke-linejoin="miter"/>
<line x1="79.6" y1="387.8" x2="79.6" y2="587.1" stroke="#111" stroke-width="1.4"/>
<line x1="78.89999999999999" y1="586.4" x2="244.0" y2="586.4" stroke="#111" stroke-width="1.5"/>
<line x1="76.1" y1="393.0" x2="79.6" y2="393.0" stroke="#111" stroke-width="1.2"/>
<text x="71.3" y="396.5" font-size="9.9" text-anchor="end" font-weight="normal" font-style="normal" fill="#1a1a1a" >1.0</text>
<line x1="76.1" y1="436.2" x2="79.6" y2="436.2" stroke="#111" stroke-width="1.2"/>
<text x="71.3" y="439.7" font-size="9.9" text-anchor="end" font-weight="normal" font-style="normal" fill="#1a1a1a" >0.8</text>
<line x1="76.1" y1="472.6" x2="79.6" y2="472.6" stroke="#111" stroke-width="1.2"/>
<text x="71.3" y="476.1" font-size="9.9" text-anchor="end" font-weight="normal" font-style="normal" fill="#1a1a1a" >0.6</text>
<line x1="76.1" y1="508.9" x2="79.6" y2="508.9" stroke="#111" stroke-width="1.2"/>
<text x="71.3" y="512.4" font-size="9.9" text-anchor="end" font-weight="normal" font-style="normal" fill="#1a1a1a" >0.4</text>
<line x1="76.1" y1="545.4" x2="79.6" y2="545.4" stroke="#111" stroke-width="1.2"/>
<text x="71.3" y="548.9" font-size="9.9" text-anchor="end" font-weight="normal" font-style="normal" fill="#1a1a1a" >0.2</text>
<line x1="76.1" y1="581.6" x2="79.6" y2="581.6" stroke="#111" stroke-width="1.2"/>
<text x="71.3" y="585.1" font-size="9.9" text-anchor="end" font-weight="normal" font-style="normal" fill="#1a1a1a" >0.0</text>
<line x1="84.6" y1="586.4" x2="84.6" y2="590.0" stroke="#111" stroke-width="1.2"/>
<text x="84.6" y="604.1" font-size="10.2" text-anchor="middle" font-weight="normal" font-style="normal" fill="#1a1a1a" >0</text>
<line x1="115.39999999999999" y1="586.4" x2="115.39999999999999" y2="590.0" stroke="#111" stroke-width="1.2"/>
<text x="115.39999999999999" y="604.1" font-size="10.2" text-anchor="middle" font-weight="normal" font-style="normal" fill="#1a1a1a" >1</text>
<line x1="146.2" y1="586.4" x2="146.2" y2="590.0" stroke="#111" stroke-width="1.2"/>
<text x="146.2" y="604.1" font-size="10.2" text-anchor="middle" font-weight="normal" font-style="normal" fill="#1a1a1a" >2</text>
<line x1="177.0" y1="586.4" x2="177.0" y2="590.0" stroke="#111" stroke-width="1.2"/>
<text x="177.0" y="604.1" font-size="10.2" text-anchor="middle" font-weight="normal" font-style="normal" fill="#1a1a1a" >3</text>
<line x1="207.8" y1="586.4" x2="207.8" y2="590.0" stroke="#111" stroke-width="1.2"/>
<text x="207.8" y="604.1" font-size="10.2" text-anchor="middle" font-weight="normal" font-style="normal" fill="#1a1a1a" >4</text>
<line x1="238.6" y1="586.4" x2="238.6" y2="590.0" stroke="#111" stroke-width="1.2"/>
<text x="238.6" y="604.1" font-size="10.2" text-anchor="middle" font-weight="normal" font-style="normal" fill="#1a1a1a" >5</text>
<text transform="translate(115.6,620.5999999999999) scale(0.595,1)" x="0" y="0" font-size="13" fill="#1a1a1a" style="stroke-width:0.6px;letter-spacing:0.55px">Years after transplant</text>
<text transform="translate(50.6,490.8) rotate(-90)" x="0" y="0" font-size="12.5" text-anchor="middle" fill="#1a1a1a" style="stroke-width:0.6px" textLength="29.6" lengthAdjust="spacingAndGlyphs">Relapse</text>
<text x="161.5" y="381.0" font-size="12" text-anchor="middle" font-weight="normal" font-style="normal" fill="#1a1a1a" >Relapse</text>
<text x="8.4" y="357" font-size="14.5" text-anchor="start" font-weight="bold" font-style="normal" fill="#000" style="stroke-width:0.7px;stroke:#000">C</text>
<line x1="83.2" y1="453.7" x2="98.8" y2="453.7" stroke="#dc0a3c" stroke-width="2.4"/>
<line x1="83.2" y1="471.3" x2="98.8" y2="471.3" stroke="#175781" stroke-width="2.4"/>
<text x="104.6" y="458.0" font-size="10" text-anchor="start" font-weight="normal" font-style="normal" fill="#1a1a1a" >MPAL</text>
<text x="104.6" y="475.3" font-size="10" text-anchor="start" font-weight="normal" font-style="normal" fill="#1a1a1a" >ALL</text>
<text x="156.9" y="439.8" font-size="10" text-anchor="middle" font-weight="normal" font-style="normal" fill="#1a1a1a" >5y-Relapse</text>
<text x="142.7" y="457.8" font-size="10" text-anchor="start" font-weight="normal" font-style="normal" fill="#1a1a1a" >27.7%</text>
<text x="142.7" y="475.0" font-size="10" text-anchor="start" font-weight="normal" font-style="normal" fill="#1a1a1a" >28.0%</text>
<text x="186.4" y="467.0" font-size="10.6" text-anchor="start" font-weight="normal" font-style="italic" fill="#1a1a1a" >P</text>
<text x="195.2" y="467.2" font-size="11.5" text-anchor="start" font-weight="normal" font-style="normal" fill="#1a1a1a" >=</text>
<text x="204.6" y="467.0" font-size="10.6" text-anchor="start" font-weight="normal" font-style="normal" fill="#1a1a1a" >.899</text>
<text x="8.7" y="635.8" font-size="9.7" text-anchor="start" font-weight="normal" font-style="normal" fill="#1a1a1a" >Number at risk</text>
<text x="71.3" y="650.8" font-size="9.7" text-anchor="end" font-weight="normal" font-style="normal" fill="#1a1a1a" >MPAL</text>
<text x="71.3" y="665.7" font-size="9.7" text-anchor="end" font-weight="normal" font-style="normal" fill="#1a1a1a" >ALL</text>
<text x="84.7" y="651.0" font-size="10.5" text-anchor="middle" font-weight="normal" font-style="normal" fill="#1a1a1a" >253</text>
<text x="84.7" y="665.9" font-size="10.5" text-anchor="middle" font-weight="normal" font-style="normal" fill="#1a1a1a" >258</text>
<text x="115.5" y="651.0" font-size="10.5" text-anchor="middle" font-weight="normal" font-style="normal" fill="#1a1a1a" >161</text>
<text x="115.5" y="665.9" font-size="10.5" text-anchor="middle" font-weight="normal" font-style="normal" fill="#1a1a1a" >137</text>
<text x="146.3" y="651.0" font-size="10.5" text-anchor="middle" font-weight="normal" font-style="normal" fill="#1a1a1a" >127</text>
<text x="146.3" y="665.9" font-size="10.5" text-anchor="middle" font-weight="normal" font-style="normal" fill="#1a1a1a" >113</text>
<text x="177.10000000000002" y="651.0" font-size="10.5" text-anchor="middle" font-weight="normal" font-style="normal" fill="#1a1a1a" >104</text>
<text x="177.10000000000002" y="665.9" font-size="10.5" text-anchor="middle" font-weight="normal" font-style="normal" fill="#1a1a1a" >92</text>
<text x="207.9" y="651.0" font-size="10.5" text-anchor="middle" font-weight="normal" font-style="normal" fill="#1a1a1a" >84</text>
<text x="207.9" y="665.9" font-size="10.5" text-anchor="middle" font-weight="normal" font-style="normal" fill="#1a1a1a" >73</text>
<text x="238.7" y="651.0" font-size="10.5" text-anchor="middle" font-weight="normal" font-style="normal" fill="#1a1a1a" >69</text>
<text x="238.7" y="665.9" font-size="10.5" text-anchor="middle" font-weight="normal" font-style="normal" fill="#1a1a1a" >58</text>
<polygon points="351.9,582.3 352.4,578.5 352.9,575.4 353.4,573.7 353.9,572.6 354.4,571.6 354.9,570.6 355.4,569.6 355.9,565.6 356.4,561.7 356.9,559.6 357.4,557.9 357.9,556.7 358.4,556.3 358.9,555.9 359.4,555.5 359.9,555.1 360.4,554.8 360.9,554.4 361.4,553.9 361.9,553.3 362.4,552.7 362.9,552.2 363.4,551.6 363.9,551.0 364.4,550.4 364.9,549.7 365.4,548.8 365.9,547.9 366.4,547.0 366.9,546.2 367.4,545.8 367.9,545.4 368.4,545.0 368.9,544.7 369.4,544.3 369.9,543.9 370.4,543.5 370.9,543.3 371.4,543.1 371.9,542.9 372.4,542.7 372.9,542.5 373.4,542.3 373.9,542.1 374.4,541.8 374.9,541.6 375.4,541.4 375.9,541.2 376.4,540.9 376.9,540.7 377.4,540.5 377.9,540.3 378.4,540.0 378.9,539.8 379.4,539.6 379.9,539.3 380.4,539.0 380.9,538.8 381.4,538.5 381.9,538.2 382.4,537.9 382.9,537.6 383.4,537.4 383.9,537.2 384.4,537.0 384.9,536.8 385.4,536.6 385.9,536.4 386.4,536.2 386.9,535.9 387.4,535.5 387.9,535.1 388.4,534.8 388.9,534.4 389.4,534.0 389.9,533.6 390.4,533.4 390.9,533.2 391.4,533.0 391.9,532.8 392.4,532.6 392.9,532.4 393.4,532.2 393.9,532.1 394.4,532.1 394.9,532.1 395.4,532.1 395.9,532.1 396.4,532.1 396.9,532.1 397.4,532.1 397.9,532.1 398.4,532.1 398.9,532.1 399.4,532.1 399.9,532.1 400.4,532.1 400.9,532.1 401.4,532.1 401.9,532.1 402.4,532.0 402.9,532.0 403.4,532.0 403.9,532.0 404.4,532.0 404.9,532.0 405.4,532.0 405.9,532.0 406.4,532.0 406.9,532.0 407.4,532.0 407.9,532.0 408.4,532.0 408.9,532.0 409.4,532.0 409.9,532.0 410.4,532.0 410.9,532.0 411.4,532.0 411.9,531.9 412.4,531.9 412.9,531.9 413.4,531.9 413.9,531.9 414.4,531.9 414.9,531.9 415.4,531.9 415.9,531.9 416.4,531.8 416.9,531.7 417.4,531.6 417.9,531.5 418.4,531.4 418.9,531.3 419.4,531.2 419.9,531.1 420.4,531.0 420.9,530.9 421.4,530.7 421.9,530.6 422.4,530.5 422.9,530.4 423.4,530.3 423.9,530.2 424.4,530.1 424.9,530.0 425.4,529.9 425.9,529.8 426.4,529.7 426.9,529.5 427.4,529.4 427.9,529.3 428.4,529.2 428.9,529.0 429.4,528.9 429.9,528.8 430.4,528.7 430.9,528.6 431.4,528.4 431.9,528.3 432.4,528.2 432.9,528.1 433.4,527.9 433.9,527.8 434.4,527.7 434.9,527.6 435.4,527.5 435.9,527.4 436.4,527.3 436.9,527.2 437.4,527.1 437.9,527.0 438.4,526.9 438.9,526.8 439.4,526.7 439.9,526.6 440.4,526.5 440.9,526.4 441.4,526.3 441.9,526.2 442.4,526.1 442.9,526.0 443.4,525.9 443.9,525.8 444.4,525.7 444.9,525.6 445.4,525.6 445.9,525.5 446.4,525.4 446.9,525.3 447.4,525.3 447.9,525.2 448.4,525.1 448.9,525.1 449.4,525.0 449.9,524.9 450.4,524.8 450.9,524.8 451.4,524.7 451.9,524.6 452.4,524.6 452.9,524.4 453.4,524.2 453.9,524.0 454.4,523.8 454.9,523.6 455.4,523.4 455.9,523.2 456.4,523.0 456.9,522.8 457.4,522.6 457.9,522.4 458.4,522.2 458.9,522.0 459.4,521.8 459.9,521.7 460.4,521.5 460.9,521.3 461.4,521.2 461.9,521.0 462.4,520.8 462.9,520.7 463.4,520.5 463.9,520.3 464.4,520.2 464.9,520.0 465.4,519.8 465.9,519.7 466.4,519.5 466.9,519.4 467.4,519.4 467.9,519.3 468.4,519.3 468.9,519.2 469.4,519.1 469.9,519.1 470.4,519.0 470.9,519.0 471.4,518.9 471.9,518.8 472.4,518.8 472.9,518.7 473.4,518.7 473.9,518.6 474.4,518.5 474.9,518.4 475.4,518.3 475.9,518.2 476.4,518.1 476.9,518.0 477.4,517.9 477.9,517.8 478.4,517.7 478.9,517.6 479.4,517.5 479.9,517.4 480.4,517.3 480.9,517.3 481.4,517.3 481.9,517.3 482.4,517.3 482.9,517.3 483.4,517.3 483.9,517.3 484.4,517.3 484.9,517.3 485.4,517.3 485.9,517.3 486.4,517.3 486.9,517.3 487.4,517.3 487.9,517.3 488.4,517.3 488.9,517.3 489.4,517.3 489.9,517.3 490.4,517.3 490.9,517.3 491.4,517.3 491.9,517.3 492.4,517.3 492.9,517.3 493.4,517.3 493.9,517.3 494.4,517.3 494.9,517.3 495.4,517.3 495.9,517.3 496.4,517.3 496.9,517.3 497.4,517.3 497.9,517.3 498.4,517.3 498.9,517.3 499.4,517.3 499.9,517.3 500.4,517.3 500.7,517.3 500.7,542.9 500.4,542.9 499.9,542.9 499.4,542.9 498.9,542.9 498.4,542.9 497.9,542.9 497.4,542.9 496.9,542.9 496.4,542.9 495.9,542.9 495.4,542.9 494.9,542.9 494.4,542.9 493.9,542.9 493.4,542.9 492.9,542.9 492.4,542.9 491.9,542.9 491.4,542.9 490.9,542.9 490.4,542.9 489.9,542.9 489.4,542.9 488.9,542.9 488.4,542.9 487.9,542.9 487.4,542.9 486.9,542.9 486.4,542.9 485.9,542.9 485.4,542.9 484.9,542.9 484.4,542.9 483.9,542.9 483.4,542.9 482.9,542.9 482.4,542.9 481.9,542.9 481.4,542.9 480.9,542.9 480.4,542.9 479.9,542.9 479.4,543.0 478.9,543.1 478.4,543.1 477.9,543.2 477.4,543.3 476.9,543.3 476.4,543.4 475.9,543.5 475.4,543.5 474.9,543.6 474.4,543.6 473.9,543.7 473.4,543.8 472.9,543.8 472.4,543.8 471.9,543.9 471.4,543.9 470.9,544.0 470.4,544.0 469.9,544.0 469.4,544.1 468.9,544.1 468.4,544.2 467.9,544.2 467.4,544.2 466.9,544.3 466.4,544.3 465.9,544.4 465.4,544.6 464.9,544.7 464.4,544.8 463.9,544.9 463.4,545.0 462.9,545.1 462.4,545.2 461.9,545.3 461.4,545.4 460.9,545.6 460.4,545.7 459.9,545.8 459.4,545.9 458.9,546.0 458.4,546.2 457.9,546.3 457.4,546.4 456.9,546.6 456.4,546.7 455.9,546.8 455.4,547.0 454.9,547.1 454.4,547.2 453.9,547.4 453.4,547.5 452.9,547.6 452.4,547.7 451.9,547.8 451.4,547.8 450.9,547.9 450.4,547.9 449.9,548.0 449.4,548.0 448.9,548.0 448.4,548.1 447.9,548.1 447.4,548.2 446.9,548.2 446.4,548.3 445.9,548.3 445.4,548.4 444.9,548.4 444.4,548.5 443.9,548.5 443.4,548.6 442.9,548.6 442.4,548.7 441.9,548.8 441.4,548.9 440.9,548.9 440.4,549.0 439.9,549.1 439.4,549.1 438.9,549.2 438.4,549.3 437.9,549.3 437.4,549.4 436.9,549.5 436.4,549.6 435.9,549.6 435.4,549.7 434.9,549.8 434.4,549.8 433.9,549.9 433.4,550.0 432.9,550.1 432.4,550.2 431.9,550.2 431.4,550.3 430.9,550.4 430.4,550.5 429.9,550.6 429.4,550.7 428.9,550.7 428.4,550.8 427.9,550.9 427.4,551.0 426.9,551.1 426.4,551.2 425.9,551.2 425.4,551.3 424.9,551.4 424.4,551.5 423.9,551.6 423.4,551.6 422.9,551.7 422.4,551.8 421.9,551.8 421.4,551.9 420.9,552.0 420.4,552.0 419.9,552.1 419.4,552.2 418.9,552.3 418.4,552.3 417.9,552.4 417.4,552.5 416.9,552.5 416.4,552.6 415.9,552.7 415.4,552.7 414.9,552.7 414.4,552.7 413.9,552.7 413.4,552.7 412.9,552.7 412.4,552.7 411.9,552.7 411.4,552.7 410.9,552.7 410.4,552.7 409.9,552.7 409.4,552.7 408.9,552.7 408.4,552.7 407.9,552.8 407.4,552.8 406.9,552.8 406.4,552.8 405.9,552.8 405.4,552.8 404.9,552.8 404.4,552.8 403.9,552.8 403.4,552.8 402.9,552.8 402.4,552.8 401.9,552.8 401.4,552.8 400.9,552.8 400.4,552.8 399.9,552.8 399.4,552.8 398.9,552.8 398.4,552.8 397.9,552.8 397.4,552.8 396.9,552.8 396.4,552.8 395.9,552.8 395.4,552.8 394.9,552.8 394.4,552.9 393.9,552.9 393.4,552.9 392.9,553.0 392.4,553.2 391.9,553.3 391.4,553.5 390.9,553.6 390.4,553.8 389.9,553.9 389.4,554.2 388.9,554.5 388.4,554.8 387.9,555.0 387.4,555.3 386.9,555.6 386.4,555.8 385.9,556.0 385.4,556.1 384.9,556.2 384.4,556.4 383.9,556.5 383.4,556.6 382.9,556.8 382.4,557.0 381.9,557.2 381.4,557.4 380.9,557.6 380.4,557.8 379.9,558.0 379.4,558.2 378.9,558.3 378.4,558.5 377.9,558.7 377.4,558.8 376.9,559.0 376.4,559.2 375.9,559.3 375.4,559.5 374.9,559.6 374.4,559.8 373.9,560.0 373.4,560.1 372.9,560.3 372.4,560.4 371.9,560.6 371.4,560.7 370.9,560.9 370.4,561.1 369.9,561.3 369.4,561.6 368.9,561.9 368.4,562.2 367.9,562.5 367.4,562.7 366.9,563.0 366.4,563.7 365.9,564.3 365.4,565.0 364.9,565.6 364.4,566.2 363.9,566.6 363.4,567.0 362.9,567.4 362.4,567.9 361.9,568.3 361.4,568.7 360.9,569.0 360.4,569.3 359.9,569.6 359.4,569.8 358.9,570.1 358.4,570.4 357.9,570.7 357.4,571.5 356.9,572.7 356.4,574.1 355.9,576.6 355.4,578.8 354.9,579.4 354.4,579.9 353.9,580.4 353.4,580.8 352.9,581.5 352.4,582.3 351.9,582.3" fill="rgba(90,160,195,0.11)"/>
<polygon points="351.9,582.3 352.4,581.8 352.9,580.3 353.4,579.2 353.9,578.3 354.4,577.4 354.9,576.6 355.4,575.9 355.9,575.1 356.4,574.4 356.9,573.1 357.4,571.8 357.9,570.4 358.4,569.1 358.9,567.9 359.4,566.6 359.9,565.4 360.4,565.0 360.9,564.7 361.4,564.5 361.9,564.3 362.4,564.1 362.9,563.9 363.4,563.7 363.9,563.3 364.4,562.9 364.9,562.5 365.4,562.0 365.9,561.6 366.4,561.2 366.9,560.8 367.4,560.3 367.9,559.9 368.4,559.4 368.9,558.9 369.4,558.5 369.9,558.0 370.4,557.6 370.9,557.1 371.4,556.6 371.9,556.1 372.4,555.5 372.9,554.9 373.4,554.3 373.9,553.7 374.4,553.2 374.9,552.6 375.4,552.2 375.9,551.8 376.4,551.4 376.9,551.0 377.4,550.6 377.9,550.2 378.4,549.8 378.9,549.6 379.4,549.3 379.9,549.1 380.4,548.9 380.9,548.6 381.4,548.4 381.9,548.2 382.4,547.9 382.9,547.7 383.4,547.5 383.9,547.4 384.4,547.3 384.9,547.1 385.4,547.0 385.9,546.8 386.4,546.7 386.9,546.5 387.4,546.4 387.9,546.2 388.4,546.0 388.9,545.8 389.4,545.6 389.9,545.4 390.4,545.2 390.9,545.0 391.4,544.6 391.9,543.9 392.4,543.2 392.9,542.5 393.4,541.8 393.9,541.5 394.4,541.3 394.9,541.1 395.4,541.0 395.9,540.8 396.4,540.6 396.9,540.4 397.4,540.2 397.9,540.1 398.4,539.8 398.9,539.6 399.4,539.3 399.9,539.1 400.4,538.8 400.9,538.6 401.4,538.3 401.9,538.2 402.4,538.1 402.9,538.0 403.4,537.9 403.9,537.8 404.4,537.7 404.9,537.6 405.4,537.5 405.9,537.3 406.4,537.2 406.9,537.1 407.4,537.0 407.9,536.9 408.4,536.7 408.9,536.6 409.4,536.6 409.9,536.6 410.4,536.6 410.9,536.6 411.4,536.6 411.9,536.6 412.4,536.5 412.9,536.5 413.4,536.5 413.9,536.5 414.4,536.5 414.9,536.5 415.4,536.4 415.9,536.4 416.4,536.4 416.9,536.4 417.4,536.4 417.9,536.4 418.4,536.4 418.9,536.3 419.4,536.3 419.9,536.3 420.4,536.3 420.9,536.3 421.4,536.3 421.9,536.3 422.4,536.2 422.9,536.2 423.4,536.2 423.9,536.2 424.4,536.2 424.9,536.2 425.4,536.1 425.9,536.0 426.4,535.9 426.9,535.8 427.4,535.7 427.9,535.6 428.4,535.6 428.9,535.5 429.4,535.4 429.9,535.3 430.4,535.2 430.9,535.1 431.4,535.0 431.9,534.9 432.4,534.8 432.9,534.7 433.4,534.6 433.9,534.5 434.4,534.3 434.9,534.2 435.4,534.1 435.9,534.0 436.4,533.9 436.9,533.7 437.4,533.5 437.9,533.3 438.4,533.1 438.9,532.8 439.4,532.6 439.9,532.4 440.4,532.1 440.9,531.9 441.4,531.8 441.9,531.8 442.4,531.7 442.9,531.7 443.4,531.7 443.9,531.7 444.4,531.7 444.9,531.6 445.4,531.6 445.9,531.6 446.4,531.6 446.9,531.6 447.4,531.6 447.9,531.5 448.4,531.5 448.9,531.5 449.4,531.5 449.9,531.5 450.4,531.4 450.9,531.4 451.4,531.4 451.9,531.4 452.4,531.4 452.9,531.3 453.4,531.3 453.9,531.3 454.4,531.3 454.9,531.3 455.4,531.3 455.9,531.2 456.4,531.2 456.9,531.2 457.4,531.2 457.9,531.0 458.4,530.9 458.9,530.7 459.4,530.6 459.9,530.5 460.4,530.3 460.9,530.2 461.4,530.0 461.9,529.9 462.4,529.8 462.9,529.6 463.4,529.5 463.9,529.3 464.4,529.3 464.9,529.3 465.4,529.3 465.9,529.3 466.4,529.3 466.9,529.3 467.4,529.3 467.9,529.3 468.4,529.3 468.9,529.3 469.4,529.3 469.9,529.3 470.4,529.3 470.9,529.3 471.4,529.3 471.9,529.3 472.4,529.3 472.9,529.3 473.4,529.3 473.9,529.3 474.4,529.3 474.9,529.3 475.4,529.3 475.9,529.3 476.4,529.3 476.9,529.3 477.4,529.3 477.9,529.3 478.4,529.3 478.9,529.3 479.4,529.3 479.9,529.3 480.4,529.3 480.9,529.3 481.4,529.3 481.9,529.3 482.4,529.3 482.9,529.3 483.4,529.3 483.9,529.3 484.4,529.3 484.9,529.3 485.4,529.3 485.9,529.3 486.4,529.3 486.9,529.3 487.4,529.2 487.9,528.8 488.4,528.4 488.9,528.0 489.4,527.7 489.9,527.5 490.4,527.5 490.9,527.5 491.4,527.5 491.9,527.5 492.4,527.5 492.9,527.5 493.4,527.5 493.9,527.5 494.4,527.5 494.9,527.5 495.4,527.5 495.9,527.5 496.4,527.5 496.9,527.5 497.4,527.5 497.9,527.5 498.4,527.5 498.9,527.5 499.4,527.5 499.9,527.5 500.4,527.5 500.7,527.5 500.7,551.1 500.4,551.1 499.9,551.1 499.4,551.1 498.9,551.1 498.4,551.1 497.9,551.1 497.4,551.1 496.9,551.1 496.4,551.1 495.9,551.1 495.4,551.1 494.9,551.1 494.4,551.1 493.9,551.1 493.4,551.1 492.9,551.1 492.4,551.1 491.9,551.1 491.4,551.1 490.9,551.1 490.4,551.1 489.9,551.1 489.4,551.2 488.9,551.4 488.4,551.6 487.9,551.9 487.4,552.1 486.9,552.1 486.4,552.1 485.9,552.1 485.4,552.1 484.9,552.1 484.4,552.1 483.9,552.1 483.4,552.1 482.9,552.1 482.4,552.1 481.9,552.1 481.4,552.1 480.9,552.1 480.4,552.1 479.9,552.1 479.4,552.1 478.9,552.1 478.4,552.1 477.9,552.1 477.4,552.1 476.9,552.1 476.4,552.1 475.9,552.1 475.4,552.1 474.9,552.1 474.4,552.1 473.9,552.1 473.4,552.1 472.9,552.1 472.4,552.1 471.9,552.1 471.4,552.1 470.9,552.1 470.4,552.1 469.9,552.1 469.4,552.1 468.9,552.1 468.4,552.1 467.9,552.1 467.4,552.1 466.9,552.1 466.4,552.1 465.9,552.1 465.4,552.1 464.9,552.1 464.4,552.1 463.9,552.2 463.4,552.3 462.9,552.4 462.4,552.5 461.9,552.6 461.4,552.7 460.9,552.8 460.4,552.8 459.9,552.9 459.4,553.0 458.9,553.1 458.4,553.2 457.9,553.3 457.4,553.4 456.9,553.4 456.4,553.4 455.9,553.5 455.4,553.5 454.9,553.5 454.4,553.5 453.9,553.5 453.4,553.5 452.9,553.5 452.4,553.5 451.9,553.5 451.4,553.6 450.9,553.6 450.4,553.6 449.9,553.6 449.4,553.6 448.9,553.6 448.4,553.6 447.9,553.6 447.4,553.7 446.9,553.7 446.4,553.7 445.9,553.7 445.4,553.7 444.9,553.7 444.4,553.7 443.9,553.8 443.4,553.8 442.9,553.8 442.4,553.8 441.9,553.8 441.4,553.8 440.9,553.9 440.4,554.1 439.9,554.2 439.4,554.4 438.9,554.5 438.4,554.7 437.9,554.8 437.4,555.0 436.9,555.2 436.4,555.3 435.9,555.4 435.4,555.4 434.9,555.5 434.4,555.6 433.9,555.7 433.4,555.7 432.9,555.8 432.4,555.9 431.9,555.9 431.4,556.0 430.9,556.1 430.4,556.1 429.9,556.2 429.4,556.3 428.9,556.3 428.4,556.4 427.9,556.5 427.4,556.5 426.9,556.6 426.4,556.7 425.9,556.7 425.4,556.8 424.9,556.8 424.4,556.8 423.9,556.9 423.4,556.9 422.9,556.9 422.4,556.9 421.9,556.9 421.4,556.9 420.9,556.9 420.4,556.9 419.9,556.9 419.4,556.9 418.9,557.0 418.4,557.0 417.9,557.0 417.4,557.0 416.9,557.0 416.4,557.0 415.9,557.0 415.4,557.0 414.9,557.0 414.4,557.0 413.9,557.1 413.4,557.1 412.9,557.1 412.4,557.1 411.9,557.1 411.4,557.1 410.9,557.1 410.4,557.1 409.9,557.1 409.4,557.1 408.9,557.2 408.4,557.2 407.9,557.3 407.4,557.4 406.9,557.5 406.4,557.6 405.9,557.7 405.4,557.8 404.9,557.8 404.4,557.9 403.9,558.0 403.4,558.1 402.9,558.1 402.4,558.2 401.9,558.3 401.4,558.4 400.9,558.6 400.4,558.7 399.9,558.9 399.4,559.1 398.9,559.3 398.4,559.5 397.9,559.7 397.4,559.8 396.9,559.9 396.4,560.0 395.9,560.2 395.4,560.3 394.9,560.4 394.4,560.5 393.9,560.7 393.4,560.9 392.9,561.4 392.4,561.9 391.9,562.4 391.4,562.9 390.9,563.2 390.4,563.3 389.9,563.5 389.4,563.6 388.9,563.7 388.4,563.9 387.9,564.0 387.4,564.1 386.9,564.2 386.4,564.3 385.9,564.4 385.4,564.5 384.9,564.6 384.4,564.7 383.9,564.8 383.4,564.9 382.9,565.0 382.4,565.2 381.9,565.4 381.4,565.5 380.9,565.7 380.4,565.8 379.9,566.0 379.4,566.2 378.9,566.3 378.4,566.5 377.9,566.8 377.4,567.0 376.9,567.3 376.4,567.6 375.9,567.8 375.4,568.1 374.9,568.4 374.4,568.8 373.9,569.2 373.4,569.6 372.9,570.0 372.4,570.4 371.9,570.8 371.4,571.1 370.9,571.4 370.4,571.7 369.9,572.0 369.4,572.3 368.9,572.6 368.4,572.9 367.9,573.2 367.4,573.5 366.9,573.8 366.4,574.1 365.9,574.3 365.4,574.6 364.9,574.8 364.4,575.1 363.9,575.4 363.4,575.6 362.9,575.7 362.4,575.9 361.9,576.0 361.4,576.1 360.9,576.2 360.4,576.4 359.9,576.6 359.4,577.4 358.9,578.1 358.4,578.8 357.9,579.4 357.4,580.1 356.9,580.7 356.4,581.2 355.9,581.5 355.4,581.7 354.9,582.0 354.4,582.2 353.9,582.3 353.4,582.4 352.9,582.3 352.4,581.8 351.9,582.3" fill="rgba(235,60,100,0.10)"/>
<polyline points="351.9,582.3 356.5,577.7 360.0,570.8 361.8,570.8 361.8,569.6 363.5,569.6 365.2,569.6 365.2,567.3 366.9,567.3 371.5,563.8 375.0,560.4 376.8,560.4 376.8,558.1 378.5,558.1 380.8,558.1 380.8,556.3 383.1,556.3 385.4,556.3 385.4,555.2 387.7,555.2 389.4,555.2 389.4,554.0 391.2,554.0 393.5,551.2 395.8,551.2 395.8,549.8 398.1,549.8 399.8,549.8 399.8,548.3 401.5,548.3 403.2,548.3 403.2,547.7 405.0,547.7 406.9,547.7 406.9,546.9 408.8,546.9 416.9,546.9 416.9,546.5 425.0,546.5 427.3,546.5 427.3,545.8 429.6,545.8 433.1,545.8 433.1,544.6 436.5,544.6 438.9,544.6 438.9,542.8 441.2,542.8 449.2,542.8 449.2,542.3 457.3,542.3 460.8,542.3 460.8,540.7 464.2,540.7 487.3,540.7 489.6,539.3 500.7,539.3" fill="none" stroke="#dc0a3c" stroke-width="2.3" stroke-linejoin="miter"/>
<polyline points="351.9,582.3 353.1,577.7 355.4,574.2 356.5,567.3 357.7,563.8 359.4,563.8 359.4,561.5 361.2,561.5 364.6,558.1 366.9,554.6 368.6,554.6 368.6,552.3 370.4,552.3 372.7,552.3 372.7,550.6 375.0,550.6 377.3,550.6 377.3,548.8 379.6,548.8 381.4,548.8 381.4,547.1 383.1,547.1 384.8,547.1 384.8,546.0 386.5,546.0 388.2,546.0 388.2,543.7 390.0,543.7 391.8,543.7 391.8,542.5 393.5,542.5 415.8,542.3 420.4,542.3 420.4,540.7 425.0,540.7 429.6,540.7 429.6,538.8 434.2,538.8 438.9,538.8 438.9,537.2 443.5,537.2 448.1,537.2 448.1,536.1 452.7,536.1 456.1,536.1 456.1,533.8 459.6,533.8 463.1,533.8 463.1,531.9 466.5,531.9 470.0,531.9 470.0,531.2 473.5,531.2 476.9,531.2 476.9,530.1 480.4,530.1 500.7,530.1" fill="none" stroke="#175781" stroke-width="1.9" stroke-linejoin="miter"/>
<line x1="346.29999999999995" y1="387.8" x2="346.29999999999995" y2="587.1" stroke="#111" stroke-width="1.4"/>
<line x1="345.59999999999997" y1="586.4" x2="510.7" y2="586.4" stroke="#111" stroke-width="1.5"/>
<line x1="342.79999999999995" y1="393.0" x2="346.29999999999995" y2="393.0" stroke="#111" stroke-width="1.2"/>
<text x="338.0" y="396.5" font-size="9.9" text-anchor="end" font-weight="normal" font-style="normal" fill="#1a1a1a" >1.0</text>
<line x1="342.79999999999995" y1="436.2" x2="346.29999999999995" y2="436.2" stroke="#111" stroke-width="1.2"/>
<text x="338.0" y="439.7" font-size="9.9" text-anchor="end" font-weight="normal" font-style="normal" fill="#1a1a1a" >0.8</text>
<line x1="342.79999999999995" y1="472.6" x2="346.29999999999995" y2="472.6" stroke="#111" stroke-width="1.2"/>
<text x="338.0" y="476.1" font-size="9.9" text-anchor="end" font-weight="normal" font-style="normal" fill="#1a1a1a" >0.6</text>
<line x1="342.79999999999995" y1="508.9" x2="346.29999999999995" y2="508.9" stroke="#111" stroke-width="1.2"/>
<text x="338.0" y="512.4" font-size="9.9" text-anchor="end" font-weight="normal" font-style="normal" fill="#1a1a1a" >0.4</text>
<line x1="342.79999999999995" y1="545.4" x2="346.29999999999995" y2="545.4" stroke="#111" stroke-width="1.2"/>
<text x="338.0" y="548.9" font-size="9.9" text-anchor="end" font-weight="normal" font-style="normal" fill="#1a1a1a" >0.2</text>
<line x1="342.79999999999995" y1="581.6" x2="346.29999999999995" y2="581.6" stroke="#111" stroke-width="1.2"/>
<text x="338.0" y="585.1" font-size="9.9" text-anchor="end" font-weight="normal" font-style="normal" fill="#1a1a1a" >0.0</text>
<line x1="351.29999999999995" y1="586.4" x2="351.29999999999995" y2="590.0" stroke="#111" stroke-width="1.2"/>
<text x="351.29999999999995" y="604.1" font-size="10.2" text-anchor="middle" font-weight="normal" font-style="normal" fill="#1a1a1a" >0</text>
<line x1="382.09999999999997" y1="586.4" x2="382.09999999999997" y2="590.0" stroke="#111" stroke-width="1.2"/>
<text x="382.09999999999997" y="604.1" font-size="10.2" text-anchor="middle" font-weight="normal" font-style="normal" fill="#1a1a1a" >1</text>
<line x1="412.9" y1="586.4" x2="412.9" y2="590.0" stroke="#111" stroke-width="1.2"/>
<text x="412.9" y="604.1" font-size="10.2" text-anchor="middle" font-weight="normal" font-style="normal" fill="#1a1a1a" >2</text>
<line x1="443.69999999999993" y1="586.4" x2="443.69999999999993" y2="590.0" stroke="#111" stroke-width="1.2"/>
<text x="443.69999999999993" y="604.1" font-size="10.2" text-anchor="middle" font-weight="normal" font-style="normal" fill="#1a1a1a" >3</text>
<line x1="474.49999999999994" y1="586.4" x2="474.49999999999994" y2="590.0" stroke="#111" stroke-width="1.2"/>
<text x="474.49999999999994" y="604.1" font-size="10.2" text-anchor="middle" font-weight="normal" font-style="normal" fill="#1a1a1a" >4</text>
<line x1="505.29999999999995" y1="586.4" x2="505.29999999999995" y2="590.0" stroke="#111" stroke-width="1.2"/>
<text x="505.29999999999995" y="604.1" font-size="10.2" text-anchor="middle" font-weight="normal" font-style="normal" fill="#1a1a1a" >5</text>
<text transform="translate(382.29999999999995,620.5999999999999) scale(0.595,1)" x="0" y="0" font-size="13" fill="#1a1a1a" style="stroke-width:0.6px;letter-spacing:0.55px">Years after transplant</text>
<text transform="translate(318.0,490.6) rotate(-90)" x="0" y="0" font-size="12.5" text-anchor="middle" fill="#1a1a1a" style="stroke-width:0.6px" textLength="20.2" lengthAdjust="spacingAndGlyphs">NRM</text>
<text x="428.2" y="381.0" font-size="12" text-anchor="middle" font-weight="normal" font-style="normal" fill="#1a1a1a" >NRM</text>
<text x="275.4" y="357" font-size="14.5" text-anchor="start" font-weight="bold" font-style="normal" fill="#000" style="stroke-width:0.7px;stroke:#000">D</text>
<line x1="350.09999999999997" y1="453.7" x2="365.7" y2="453.7" stroke="#dc0a3c" stroke-width="2.4"/>
<line x1="350.09999999999997" y1="471.3" x2="365.7" y2="471.3" stroke="#175781" stroke-width="2.4"/>
<text x="371.5" y="458.0" font-size="10" text-anchor="start" font-weight="normal" font-style="normal" fill="#1a1a1a" >MPAL</text>
<text x="371.5" y="475.3" font-size="10" text-anchor="start" font-weight="normal" font-style="normal" fill="#1a1a1a" >ALL</text>
<text x="423.79999999999995" y="439.8" font-size="10" text-anchor="middle" font-weight="normal" font-style="normal" fill="#1a1a1a" >5y-NRM</text>
<text x="409.59999999999997" y="457.8" font-size="10" text-anchor="start" font-weight="normal" font-style="normal" fill="#1a1a1a" >22.3%</text>
<text x="409.59999999999997" y="475.0" font-size="10" text-anchor="start" font-weight="normal" font-style="normal" fill="#1a1a1a" >27.5%</text>
<text x="453.29999999999995" y="467.0" font-size="10.6" text-anchor="start" font-weight="normal" font-style="italic" fill="#1a1a1a" >P</text>
<text x="462.09999999999997" y="467.2" font-size="11.5" text-anchor="start" font-weight="normal" font-style="normal" fill="#1a1a1a" >=</text>
<text x="471.5" y="467.0" font-size="10.6" text-anchor="start" font-weight="normal" font-style="normal" fill="#1a1a1a" >.134</text>
<text x="275.7" y="635.8" font-size="9.7" text-anchor="start" font-weight="normal" font-style="normal" fill="#1a1a1a" >Number at risk</text>
<text x="338.3" y="650.8" font-size="9.7" text-anchor="end" font-weight="normal" font-style="normal" fill="#1a1a1a" >MPAL</text>
<text x="338.3" y="665.7" font-size="9.7" text-anchor="end" font-weight="normal" font-style="normal" fill="#1a1a1a" >ALL</text>
<text x="351.4" y="651.0" font-size="10.5" text-anchor="middle" font-weight="normal" font-style="normal" fill="#1a1a1a" >253</text>
<text x="351.4" y="665.9" font-size="10.5" text-anchor="middle" font-weight="normal" font-style="normal" fill="#1a1a1a" >258</text>
<text x="382.2" y="651.0" font-size="10.5" text-anchor="middle" font-weight="normal" font-style="normal" fill="#1a1a1a" >161</text>
<text x="382.2" y="665.9" font-size="10.5" text-anchor="middle" font-weight="normal" font-style="normal" fill="#1a1a1a" >137</text>
<text x="413.0" y="651.0" font-size="10.5" text-anchor="middle" font-weight="normal" font-style="normal" fill="#1a1a1a" >127</text>
<text x="413.0" y="665.9" font-size="10.5" text-anchor="middle" font-weight="normal" font-style="normal" fill="#1a1a1a" >113</text>
<text x="443.79999999999995" y="651.0" font-size="10.5" text-anchor="middle" font-weight="normal" font-style="normal" fill="#1a1a1a" >104</text>
<text x="443.79999999999995" y="665.9" font-size="10.5" text-anchor="middle" font-weight="normal" font-style="normal" fill="#1a1a1a" >92</text>
<text x="474.59999999999997" y="651.0" font-size="10.5" text-anchor="middle" font-weight="normal" font-style="normal" fill="#1a1a1a" >84</text>
<text x="474.59999999999997" y="665.9" font-size="10.5" text-anchor="middle" font-weight="normal" font-style="normal" fill="#1a1a1a" >73</text>
<text x="505.4" y="651.0" font-size="10.5" text-anchor="middle" font-weight="normal" font-style="normal" fill="#1a1a1a" >69</text>
<text x="505.4" y="665.9" font-size="10.5" text-anchor="middle" font-weight="normal" font-style="normal" fill="#1a1a1a" >58</text>
</svg></div></body></html>
